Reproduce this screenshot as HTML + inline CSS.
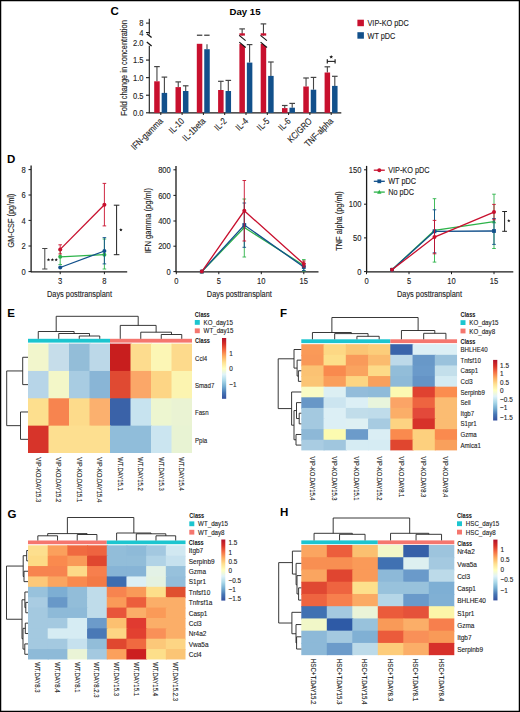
<!DOCTYPE html><html><head><meta charset="utf-8"><style>html,body{margin:0;padding:0;background:#fff;}svg{display:block;}</style></head><body>
<svg width="520" height="712" viewBox="0 0 520 712" font-family='"Liberation Sans", sans-serif'>
<rect x="0" y="0" width="520" height="712" fill="#fff"/>
<text x="110.50" y="11.30" dy="4.14" font-size="11.5" text-anchor="start" font-weight="bold" fill="#000">C</text>
<text x="245.00" y="11.60" dy="3.46" font-size="9.6" text-anchor="middle" font-weight="bold" fill="#000">Day 15</text>
<line x1="149.30" y1="18.80" x2="149.30" y2="34.60" stroke="#1a1a1a" stroke-width="1.1"/>
<line x1="149.30" y1="45.80" x2="149.30" y2="112.80" stroke="#1a1a1a" stroke-width="1.1"/>
<line x1="146.80" y1="33.80" x2="151.60" y2="37.60" stroke="#111" stroke-width="1.3"/>
<line x1="146.80" y1="41.90" x2="151.60" y2="45.90" stroke="#111" stroke-width="1.3"/>
<line x1="146.00" y1="112.80" x2="149.30" y2="112.80" stroke="#1a1a1a" stroke-width="1.1"/>
<text x="0.00" y="0.00" dy="2.74" font-size="7.6" text-anchor="end" font-weight="normal" fill="#222" stroke="#222" stroke-width="0.1" transform="translate(143.60,112.80) scale(1,1.2)">0.0</text>
<line x1="146.00" y1="95.22" x2="149.30" y2="95.22" stroke="#1a1a1a" stroke-width="1.1"/>
<text x="0.00" y="0.00" dy="2.74" font-size="7.6" text-anchor="end" font-weight="normal" fill="#222" stroke="#222" stroke-width="0.1" transform="translate(143.60,95.22) scale(1,1.2)">0.5</text>
<line x1="146.00" y1="77.65" x2="149.30" y2="77.65" stroke="#1a1a1a" stroke-width="1.1"/>
<text x="0.00" y="0.00" dy="2.74" font-size="7.6" text-anchor="end" font-weight="normal" fill="#222" stroke="#222" stroke-width="0.1" transform="translate(143.60,77.65) scale(1,1.2)">1.0</text>
<line x1="146.00" y1="60.08" x2="149.30" y2="60.08" stroke="#1a1a1a" stroke-width="1.1"/>
<text x="0.00" y="0.00" dy="2.74" font-size="7.6" text-anchor="end" font-weight="normal" fill="#222" stroke="#222" stroke-width="0.1" transform="translate(143.60,60.08) scale(1,1.2)">1.5</text>
<text x="0.00" y="0.00" dy="2.74" font-size="7.6" text-anchor="end" font-weight="normal" fill="#222" stroke="#222" stroke-width="0.1" transform="translate(143.60,42.50) scale(1,1.2)">2.0</text>
<line x1="146.00" y1="23.10" x2="149.30" y2="23.10" stroke="#1a1a1a" stroke-width="1.0"/>
<text x="0.00" y="0.00" dy="2.74" font-size="7.6" text-anchor="end" font-weight="normal" fill="#222" stroke="#222" stroke-width="0.1" transform="translate(143.60,23.10) scale(1,1.2)">8</text>
<line x1="146.00" y1="32.50" x2="149.30" y2="32.50" stroke="#1a1a1a" stroke-width="1.0"/>
<text x="0.00" y="0.00" dy="2.74" font-size="7.6" text-anchor="end" font-weight="normal" fill="#222" stroke="#222" stroke-width="0.1" transform="translate(143.60,32.50) scale(1,1.2)">4</text>
<text x="0.00" y="0.00" dy="2.68" font-size="7.45" text-anchor="middle" font-weight="normal" fill="#222" stroke="#222" stroke-width="0.1" transform="translate(123.60,68.00) rotate(-90) scale(1,1.2)">Fold change in concentration</text>
<line x1="148.80" y1="112.80" x2="341.30" y2="112.80" stroke="#1a1a1a" stroke-width="1.2"/>
<line x1="156.95" y1="66.60" x2="156.95" y2="81.30" stroke="#444" stroke-width="1.1"/>
<line x1="154.15" y1="66.60" x2="159.75" y2="66.60" stroke="#444" stroke-width="1.2"/>
<line x1="164.40" y1="77.10" x2="164.40" y2="92.90" stroke="#444" stroke-width="1.1"/>
<line x1="161.60" y1="77.10" x2="167.20" y2="77.10" stroke="#444" stroke-width="1.2"/>
<rect x="154.20" y="81.30" width="5.50" height="31.50" fill="#C8102E"/>
<rect x="161.65" y="92.90" width="5.50" height="19.90" fill="#12508B"/>
<line x1="160.80" y1="112.80" x2="160.80" y2="115.00" stroke="#1a1a1a" stroke-width="1.0"/>
<text x="0.00" y="0.00" font-size="7.7" text-anchor="end" font-weight="normal" fill="#222" stroke="#222" stroke-width="0.1" transform="translate(163.50,121.80) rotate(-45) scale(1,1.2)">IFN-gamma</text>
<line x1="178.25" y1="81.90" x2="178.25" y2="87.10" stroke="#444" stroke-width="1.1"/>
<line x1="175.45" y1="81.90" x2="181.05" y2="81.90" stroke="#444" stroke-width="1.2"/>
<line x1="185.70" y1="85.80" x2="185.70" y2="91.00" stroke="#444" stroke-width="1.1"/>
<line x1="182.90" y1="85.80" x2="188.50" y2="85.80" stroke="#444" stroke-width="1.2"/>
<rect x="175.50" y="87.10" width="5.50" height="25.70" fill="#C8102E"/>
<rect x="182.95" y="91.00" width="5.50" height="21.80" fill="#12508B"/>
<line x1="182.10" y1="112.80" x2="182.10" y2="115.00" stroke="#1a1a1a" stroke-width="1.0"/>
<text x="0.00" y="0.00" font-size="7.7" text-anchor="end" font-weight="normal" fill="#222" stroke="#222" stroke-width="0.1" transform="translate(184.80,121.80) rotate(-45) scale(1,1.2)">IL-10</text>
<line x1="207.00" y1="44.20" x2="207.00" y2="49.20" stroke="#444" stroke-width="1.1"/>
<rect x="196.80" y="43.80" width="5.50" height="69.00" fill="#C8102E"/>
<rect x="204.25" y="49.20" width="5.50" height="63.60" fill="#12508B"/>
<line x1="203.40" y1="112.80" x2="203.40" y2="115.00" stroke="#1a1a1a" stroke-width="1.0"/>
<text x="0.00" y="0.00" font-size="7.7" text-anchor="end" font-weight="normal" fill="#222" stroke="#222" stroke-width="0.1" transform="translate(206.10,121.80) rotate(-45) scale(1,1.2)">IL-1beta</text>
<line x1="220.85" y1="81.30" x2="220.85" y2="90.00" stroke="#444" stroke-width="1.1"/>
<line x1="218.05" y1="81.30" x2="223.65" y2="81.30" stroke="#444" stroke-width="1.2"/>
<line x1="228.30" y1="80.40" x2="228.30" y2="91.00" stroke="#444" stroke-width="1.1"/>
<line x1="225.50" y1="80.40" x2="231.10" y2="80.40" stroke="#444" stroke-width="1.2"/>
<rect x="218.10" y="90.00" width="5.50" height="22.80" fill="#C8102E"/>
<rect x="225.55" y="91.00" width="5.50" height="21.80" fill="#12508B"/>
<line x1="224.70" y1="112.80" x2="224.70" y2="115.00" stroke="#1a1a1a" stroke-width="1.0"/>
<text x="0.00" y="0.00" font-size="7.7" text-anchor="end" font-weight="normal" fill="#222" stroke="#222" stroke-width="0.1" transform="translate(227.40,121.80) rotate(-45) scale(1,1.2)">IL-2</text>
<line x1="242.15" y1="28.90" x2="242.15" y2="43.70" stroke="#444" stroke-width="1.1"/>
<line x1="239.35" y1="28.90" x2="244.95" y2="28.90" stroke="#444" stroke-width="1.2"/>
<line x1="249.60" y1="44.60" x2="249.60" y2="62.60" stroke="#444" stroke-width="1.1"/>
<line x1="246.80" y1="44.60" x2="252.40" y2="44.60" stroke="#444" stroke-width="1.2"/>
<rect x="239.40" y="43.70" width="5.50" height="69.10" fill="#C8102E"/>
<rect x="246.85" y="62.60" width="5.50" height="50.20" fill="#12508B"/>
<line x1="246.00" y1="112.80" x2="246.00" y2="115.00" stroke="#1a1a1a" stroke-width="1.0"/>
<text x="0.00" y="0.00" font-size="7.7" text-anchor="end" font-weight="normal" fill="#222" stroke="#222" stroke-width="0.1" transform="translate(248.70,121.80) rotate(-45) scale(1,1.2)">IL-4</text>
<line x1="263.45" y1="23.90" x2="263.45" y2="43.70" stroke="#444" stroke-width="1.1"/>
<line x1="260.65" y1="23.90" x2="266.25" y2="23.90" stroke="#444" stroke-width="1.2"/>
<line x1="270.90" y1="62.00" x2="270.90" y2="75.90" stroke="#444" stroke-width="1.1"/>
<line x1="268.10" y1="62.00" x2="273.70" y2="62.00" stroke="#444" stroke-width="1.2"/>
<rect x="260.70" y="43.70" width="5.50" height="69.10" fill="#C8102E"/>
<rect x="268.15" y="75.90" width="5.50" height="36.90" fill="#12508B"/>
<line x1="267.30" y1="112.80" x2="267.30" y2="115.00" stroke="#1a1a1a" stroke-width="1.0"/>
<text x="0.00" y="0.00" font-size="7.7" text-anchor="end" font-weight="normal" fill="#222" stroke="#222" stroke-width="0.1" transform="translate(270.00,121.80) rotate(-45) scale(1,1.2)">IL-5</text>
<line x1="284.75" y1="105.50" x2="284.75" y2="108.10" stroke="#444" stroke-width="1.1"/>
<line x1="281.95" y1="105.50" x2="287.55" y2="105.50" stroke="#444" stroke-width="1.2"/>
<line x1="292.20" y1="103.40" x2="292.20" y2="107.70" stroke="#444" stroke-width="1.1"/>
<line x1="289.40" y1="103.40" x2="295.00" y2="103.40" stroke="#444" stroke-width="1.2"/>
<rect x="282.00" y="108.10" width="5.50" height="4.70" fill="#C8102E"/>
<rect x="289.45" y="107.70" width="5.50" height="5.10" fill="#12508B"/>
<line x1="288.60" y1="112.80" x2="288.60" y2="115.00" stroke="#1a1a1a" stroke-width="1.0"/>
<text x="0.00" y="0.00" font-size="7.7" text-anchor="end" font-weight="normal" fill="#222" stroke="#222" stroke-width="0.1" transform="translate(291.30,121.80) rotate(-45) scale(1,1.2)">IL-6</text>
<line x1="306.05" y1="78.00" x2="306.05" y2="86.50" stroke="#444" stroke-width="1.1"/>
<line x1="303.25" y1="78.00" x2="308.85" y2="78.00" stroke="#444" stroke-width="1.2"/>
<line x1="313.50" y1="77.40" x2="313.50" y2="89.70" stroke="#444" stroke-width="1.1"/>
<line x1="310.70" y1="77.40" x2="316.30" y2="77.40" stroke="#444" stroke-width="1.2"/>
<rect x="303.30" y="86.50" width="5.50" height="26.30" fill="#C8102E"/>
<rect x="310.75" y="89.70" width="5.50" height="23.10" fill="#12508B"/>
<line x1="309.90" y1="112.80" x2="309.90" y2="115.00" stroke="#1a1a1a" stroke-width="1.0"/>
<text x="0.00" y="0.00" font-size="7.7" text-anchor="end" font-weight="normal" fill="#222" stroke="#222" stroke-width="0.1" transform="translate(312.60,121.80) rotate(-45) scale(1,1.2)">KC/GRO</text>
<line x1="327.35" y1="66.80" x2="327.35" y2="72.50" stroke="#444" stroke-width="1.1"/>
<line x1="324.55" y1="66.80" x2="330.15" y2="66.80" stroke="#444" stroke-width="1.2"/>
<line x1="334.80" y1="76.30" x2="334.80" y2="85.90" stroke="#444" stroke-width="1.1"/>
<line x1="332.00" y1="76.30" x2="337.60" y2="76.30" stroke="#444" stroke-width="1.2"/>
<rect x="324.60" y="72.50" width="5.50" height="40.30" fill="#C8102E"/>
<rect x="332.05" y="85.90" width="5.50" height="26.90" fill="#12508B"/>
<line x1="331.20" y1="112.80" x2="331.20" y2="115.00" stroke="#1a1a1a" stroke-width="1.0"/>
<text x="0.00" y="0.00" font-size="7.7" text-anchor="end" font-weight="normal" fill="#222" stroke="#222" stroke-width="0.1" transform="translate(333.90,121.80) rotate(-45) scale(1,1.2)">TNF-alpha</text>
<line x1="196.90" y1="35.20" x2="202.30" y2="35.20" stroke="#222" stroke-width="1.1"/>
<line x1="204.20" y1="35.20" x2="209.60" y2="35.20" stroke="#222" stroke-width="1.1"/>
<rect x="239.10" y="35.60" width="6.30" height="8.10" fill="#fff"/>
<rect x="239.40" y="33.30" width="5.50" height="2.30" fill="#C8102E"/>
<polygon points="239.10,42.0 245.50,42.0 245.50,47.6" fill="#fff"/>
<line x1="239.20" y1="35.30" x2="245.60" y2="40.70" stroke="#111" stroke-width="1.1"/>
<line x1="239.30" y1="42.20" x2="245.70" y2="47.50" stroke="#111" stroke-width="1.1"/>
<rect x="260.40" y="35.60" width="6.30" height="8.10" fill="#fff"/>
<rect x="260.70" y="33.30" width="5.50" height="2.30" fill="#C8102E"/>
<polygon points="260.40,42.0 266.80,42.0 266.80,47.6" fill="#fff"/>
<line x1="260.50" y1="35.30" x2="266.90" y2="40.70" stroke="#111" stroke-width="1.1"/>
<line x1="260.60" y1="42.20" x2="267.00" y2="47.50" stroke="#111" stroke-width="1.1"/>
<line x1="327.30" y1="61.40" x2="335.10" y2="61.40" stroke="#222" stroke-width="1.1"/>
<line x1="327.30" y1="59.20" x2="327.30" y2="63.60" stroke="#222" stroke-width="1.2"/>
<line x1="335.10" y1="59.20" x2="335.10" y2="63.60" stroke="#222" stroke-width="1.2"/>
<polygon points="331.20,54.90 331.73,56.17 333.10,56.28 332.06,57.18 332.38,58.52 331.20,57.80 330.02,58.52 330.34,57.18 329.30,56.28 330.67,56.17" fill="#111"/>
<rect x="357.40" y="19.70" width="6.50" height="6.50" fill="#C8102E"/>
<rect x="357.40" y="32.20" width="6.50" height="6.50" fill="#12508B"/>
<text x="0.00" y="0.00" dy="2.63" font-size="7.3" text-anchor="start" font-weight="normal" fill="#222" stroke="#222" stroke-width="0.1" transform="translate(367.50,23.00) scale(1,1.2)">VIP-KO pDC</text>
<text x="0.00" y="0.00" dy="2.63" font-size="7.3" text-anchor="start" font-weight="normal" fill="#222" stroke="#222" stroke-width="0.1" transform="translate(367.50,35.50) scale(1,1.2)">WT pDC</text>
<text x="7.00" y="158.80" dy="4.14" font-size="11.5" text-anchor="start" font-weight="bold" fill="#000">D</text>
<line x1="31.10" y1="165.40" x2="31.10" y2="272.30" stroke="#1a1a1a" stroke-width="1.3"/>
<line x1="28.50" y1="271.60" x2="31.10" y2="271.60" stroke="#1a1a1a" stroke-width="1.0"/>
<text x="0.00" y="0.00" dy="2.74" font-size="7.6" text-anchor="end" font-weight="normal" fill="#222" stroke="#222" stroke-width="0.1" transform="translate(25.80,271.60) scale(1,1.2)">0</text>
<line x1="28.50" y1="246.00" x2="31.10" y2="246.00" stroke="#1a1a1a" stroke-width="1.0"/>
<text x="0.00" y="0.00" dy="2.74" font-size="7.6" text-anchor="end" font-weight="normal" fill="#222" stroke="#222" stroke-width="0.1" transform="translate(25.80,246.00) scale(1,1.2)">2</text>
<line x1="28.50" y1="220.40" x2="31.10" y2="220.40" stroke="#1a1a1a" stroke-width="1.0"/>
<text x="0.00" y="0.00" dy="2.74" font-size="7.6" text-anchor="end" font-weight="normal" fill="#222" stroke="#222" stroke-width="0.1" transform="translate(25.80,220.40) scale(1,1.2)">4</text>
<line x1="28.50" y1="195.00" x2="31.10" y2="195.00" stroke="#1a1a1a" stroke-width="1.0"/>
<text x="0.00" y="0.00" dy="2.74" font-size="7.6" text-anchor="end" font-weight="normal" fill="#222" stroke="#222" stroke-width="0.1" transform="translate(25.80,195.00) scale(1,1.2)">6</text>
<line x1="28.50" y1="169.60" x2="31.10" y2="169.60" stroke="#1a1a1a" stroke-width="1.0"/>
<text x="0.00" y="0.00" dy="2.74" font-size="7.6" text-anchor="end" font-weight="normal" fill="#222" stroke="#222" stroke-width="0.1" transform="translate(25.80,169.60) scale(1,1.2)">8</text>
<line x1="31.10" y1="271.80" x2="127.20" y2="271.80" stroke="#1a1a1a" stroke-width="1.3"/>
<line x1="60.20" y1="271.80" x2="60.20" y2="274.20" stroke="#1a1a1a" stroke-width="1.0"/>
<text x="0.00" y="0.00" dy="2.74" font-size="7.6" text-anchor="middle" font-weight="normal" fill="#222" stroke="#222" stroke-width="0.1" transform="translate(60.20,280.80) scale(1,1.2)">3</text>
<line x1="104.40" y1="271.80" x2="104.40" y2="274.20" stroke="#1a1a1a" stroke-width="1.0"/>
<text x="0.00" y="0.00" dy="2.74" font-size="7.6" text-anchor="middle" font-weight="normal" fill="#222" stroke="#222" stroke-width="0.1" transform="translate(104.40,280.80) scale(1,1.2)">8</text>
<text x="0.00" y="0.00" dy="2.65" font-size="7.35" text-anchor="middle" font-weight="normal" fill="#222" stroke="#222" stroke-width="0.1" transform="translate(79.50,293.30) scale(1,1.3)">Days posttransplant</text>
<text x="0.00" y="0.00" dy="2.65" font-size="7.35" text-anchor="middle" font-weight="normal" fill="#222" stroke="#222" stroke-width="0.1" transform="translate(10.60,220.60) rotate(-90) scale(1,1.2)">GM-CSF (pg/ml)</text>
<line x1="60.20" y1="250.00" x2="60.20" y2="264.60" stroke="#2DB34A" stroke-width="0.9"/>
<line x1="58.40" y1="250.00" x2="62.00" y2="250.00" stroke="#2DB34A" stroke-width="0.9"/>
<line x1="58.40" y1="264.60" x2="62.00" y2="264.60" stroke="#2DB34A" stroke-width="0.9"/>
<line x1="104.40" y1="239.00" x2="104.40" y2="269.00" stroke="#2DB34A" stroke-width="0.9"/>
<line x1="102.60" y1="239.00" x2="106.20" y2="239.00" stroke="#2DB34A" stroke-width="0.9"/>
<line x1="102.60" y1="269.00" x2="106.20" y2="269.00" stroke="#2DB34A" stroke-width="0.9"/>
<path d="M60.20,256.80 L104.40,254.70" stroke="#2DB34A" stroke-width="1.3" fill="none"/>
<circle cx="60.20" cy="256.80" r="2.0" fill="#2DB34A"/>
<circle cx="104.40" cy="254.70" r="2.0" fill="#2DB34A"/>
<line x1="104.40" y1="237.60" x2="104.40" y2="263.90" stroke="#12508B" stroke-width="0.9"/>
<line x1="102.60" y1="237.60" x2="106.20" y2="237.60" stroke="#12508B" stroke-width="0.9"/>
<line x1="102.60" y1="263.90" x2="106.20" y2="263.90" stroke="#12508B" stroke-width="0.9"/>
<path d="M60.20,267.50 L104.40,251.00" stroke="#12508B" stroke-width="1.3" fill="none"/>
<circle cx="60.20" cy="267.50" r="2.0" fill="#12508B"/>
<circle cx="104.40" cy="251.00" r="2.0" fill="#12508B"/>
<line x1="60.20" y1="244.80" x2="60.20" y2="253.90" stroke="#C8102E" stroke-width="0.9"/>
<line x1="58.40" y1="244.80" x2="62.00" y2="244.80" stroke="#C8102E" stroke-width="0.9"/>
<line x1="58.40" y1="253.90" x2="62.00" y2="253.90" stroke="#C8102E" stroke-width="0.9"/>
<line x1="104.40" y1="183.40" x2="104.40" y2="225.90" stroke="#C8102E" stroke-width="0.9"/>
<line x1="102.60" y1="183.40" x2="106.20" y2="183.40" stroke="#C8102E" stroke-width="0.9"/>
<line x1="102.60" y1="225.90" x2="106.20" y2="225.90" stroke="#C8102E" stroke-width="0.9"/>
<path d="M60.20,249.40 L104.40,204.80" stroke="#C8102E" stroke-width="1.3" fill="none"/>
<circle cx="60.20" cy="249.40" r="2.0" fill="#C8102E"/>
<circle cx="104.40" cy="204.80" r="2.0" fill="#C8102E"/>
<line x1="44.80" y1="248.50" x2="44.80" y2="269.00" stroke="#444" stroke-width="1.0"/>
<line x1="42.20" y1="248.50" x2="47.40" y2="248.50" stroke="#444" stroke-width="1.0"/>
<line x1="42.20" y1="269.00" x2="47.40" y2="269.00" stroke="#444" stroke-width="1.0"/>
<polygon points="48.50,258.00 48.98,259.14 50.21,259.24 49.27,260.05 49.56,261.26 48.50,260.61 47.44,261.26 47.73,260.05 46.79,259.24 48.02,259.14" fill="#111"/>
<polygon points="52.40,258.00 52.88,259.14 54.11,259.24 53.17,260.05 53.46,261.26 52.40,260.61 51.34,261.26 51.63,260.05 50.69,259.24 51.92,259.14" fill="#111"/>
<polygon points="56.20,258.00 56.68,259.14 57.91,259.24 56.97,260.05 57.26,261.26 56.20,260.61 55.14,261.26 55.43,260.05 54.49,259.24 55.72,259.14" fill="#111"/>
<line x1="116.60" y1="205.20" x2="116.60" y2="254.70" stroke="#222" stroke-width="1.0"/>
<line x1="113.80" y1="205.20" x2="119.40" y2="205.20" stroke="#222" stroke-width="1.0"/>
<line x1="113.80" y1="254.70" x2="119.40" y2="254.70" stroke="#222" stroke-width="1.0"/>
<polygon points="120.90,228.10 121.38,229.24 122.61,229.34 121.67,230.15 121.96,231.36 120.90,230.71 119.84,231.36 120.13,230.15 119.19,229.34 120.42,229.24" fill="#111"/>
<line x1="176.00" y1="165.90" x2="176.00" y2="272.30" stroke="#1a1a1a" stroke-width="1.3"/>
<line x1="173.40" y1="271.60" x2="176.00" y2="271.60" stroke="#1a1a1a" stroke-width="1.0"/>
<text x="0.00" y="0.00" dy="2.74" font-size="7.6" text-anchor="end" font-weight="normal" fill="#222" stroke="#222" stroke-width="0.1" transform="translate(170.80,271.60) scale(1,1.2)">0</text>
<line x1="173.40" y1="246.20" x2="176.00" y2="246.20" stroke="#1a1a1a" stroke-width="1.0"/>
<text x="0.00" y="0.00" dy="2.74" font-size="7.6" text-anchor="end" font-weight="normal" fill="#222" stroke="#222" stroke-width="0.1" transform="translate(170.80,246.20) scale(1,1.2)">200</text>
<line x1="173.40" y1="221.00" x2="176.00" y2="221.00" stroke="#1a1a1a" stroke-width="1.0"/>
<text x="0.00" y="0.00" dy="2.74" font-size="7.6" text-anchor="end" font-weight="normal" fill="#222" stroke="#222" stroke-width="0.1" transform="translate(170.80,221.00) scale(1,1.2)">400</text>
<line x1="173.40" y1="195.40" x2="176.00" y2="195.40" stroke="#1a1a1a" stroke-width="1.0"/>
<text x="0.00" y="0.00" dy="2.74" font-size="7.6" text-anchor="end" font-weight="normal" fill="#222" stroke="#222" stroke-width="0.1" transform="translate(170.80,195.40) scale(1,1.2)">600</text>
<line x1="173.40" y1="169.80" x2="176.00" y2="169.80" stroke="#1a1a1a" stroke-width="1.0"/>
<text x="0.00" y="0.00" dy="2.74" font-size="7.6" text-anchor="end" font-weight="normal" fill="#222" stroke="#222" stroke-width="0.1" transform="translate(170.80,169.80) scale(1,1.2)">800</text>
<line x1="176.00" y1="271.80" x2="318.50" y2="271.80" stroke="#1a1a1a" stroke-width="1.3"/>
<line x1="176.30" y1="271.80" x2="176.30" y2="274.20" stroke="#1a1a1a" stroke-width="1.0"/>
<text x="0.00" y="0.00" dy="2.74" font-size="7.6" text-anchor="middle" font-weight="normal" fill="#222" stroke="#222" stroke-width="0.1" transform="translate(176.30,280.80) scale(1,1.2)">0</text>
<line x1="218.80" y1="271.80" x2="218.80" y2="274.20" stroke="#1a1a1a" stroke-width="1.0"/>
<text x="0.00" y="0.00" dy="2.74" font-size="7.6" text-anchor="middle" font-weight="normal" fill="#222" stroke="#222" stroke-width="0.1" transform="translate(218.80,280.80) scale(1,1.2)">5</text>
<line x1="261.30" y1="271.80" x2="261.30" y2="274.20" stroke="#1a1a1a" stroke-width="1.0"/>
<text x="0.00" y="0.00" dy="2.74" font-size="7.6" text-anchor="middle" font-weight="normal" fill="#222" stroke="#222" stroke-width="0.1" transform="translate(261.30,280.80) scale(1,1.2)">10</text>
<line x1="303.80" y1="271.80" x2="303.80" y2="274.20" stroke="#1a1a1a" stroke-width="1.0"/>
<text x="0.00" y="0.00" dy="2.74" font-size="7.6" text-anchor="middle" font-weight="normal" fill="#222" stroke="#222" stroke-width="0.1" transform="translate(303.80,280.80) scale(1,1.2)">15</text>
<text x="0.00" y="0.00" dy="2.65" font-size="7.35" text-anchor="middle" font-weight="normal" fill="#222" stroke="#222" stroke-width="0.1" transform="translate(239.30,293.30) scale(1,1.3)">Days posttransplant</text>
<text x="0.00" y="0.00" dy="2.74" font-size="7.6" text-anchor="middle" font-weight="normal" fill="#222" stroke="#222" stroke-width="0.1" transform="translate(147.60,220.60) rotate(-90) scale(1,1.2)">IFN gamma (pg/ml)</text>
<line x1="244.30" y1="199.00" x2="244.30" y2="257.00" stroke="#2DB34A" stroke-width="0.9"/>
<line x1="242.50" y1="199.00" x2="246.10" y2="199.00" stroke="#2DB34A" stroke-width="0.9"/>
<line x1="242.50" y1="257.00" x2="246.10" y2="257.00" stroke="#2DB34A" stroke-width="0.9"/>
<line x1="303.80" y1="259.60" x2="303.80" y2="271.00" stroke="#2DB34A" stroke-width="0.9"/>
<line x1="302.00" y1="259.60" x2="305.60" y2="259.60" stroke="#2DB34A" stroke-width="0.9"/>
<line x1="302.00" y1="271.00" x2="305.60" y2="271.00" stroke="#2DB34A" stroke-width="0.9"/>
<path d="M201.80,271.60 L244.30,227.50 L303.80,265.50" stroke="#2DB34A" stroke-width="1.3" fill="none"/>
<polygon points="201.80,269.30 204.00,273.20 199.60,273.20" fill="#2DB34A"/>
<polygon points="244.30,225.20 246.50,229.10 242.10,229.10" fill="#2DB34A"/>
<polygon points="303.80,263.20 306.00,267.10 301.60,267.10" fill="#2DB34A"/>
<line x1="244.30" y1="203.00" x2="244.30" y2="247.30" stroke="#12508B" stroke-width="0.9"/>
<line x1="242.50" y1="203.00" x2="246.10" y2="203.00" stroke="#12508B" stroke-width="0.9"/>
<line x1="242.50" y1="247.30" x2="246.10" y2="247.30" stroke="#12508B" stroke-width="0.9"/>
<line x1="303.80" y1="263.50" x2="303.80" y2="270.50" stroke="#12508B" stroke-width="0.9"/>
<line x1="302.00" y1="263.50" x2="305.60" y2="263.50" stroke="#12508B" stroke-width="0.9"/>
<line x1="302.00" y1="270.50" x2="305.60" y2="270.50" stroke="#12508B" stroke-width="0.9"/>
<path d="M201.80,271.60 L244.30,225.00 L303.80,267.00" stroke="#12508B" stroke-width="1.3" fill="none"/>
<rect x="199.90" y="269.70" width="3.80" height="3.80" fill="#12508B"/>
<rect x="242.40" y="223.10" width="3.80" height="3.80" fill="#12508B"/>
<rect x="301.90" y="265.10" width="3.80" height="3.80" fill="#12508B"/>
<line x1="244.30" y1="180.50" x2="244.30" y2="241.00" stroke="#C8102E" stroke-width="0.9"/>
<line x1="242.50" y1="180.50" x2="246.10" y2="180.50" stroke="#C8102E" stroke-width="0.9"/>
<line x1="242.50" y1="241.00" x2="246.10" y2="241.00" stroke="#C8102E" stroke-width="0.9"/>
<line x1="303.80" y1="261.00" x2="303.80" y2="267.00" stroke="#C8102E" stroke-width="0.9"/>
<line x1="302.00" y1="261.00" x2="305.60" y2="261.00" stroke="#C8102E" stroke-width="0.9"/>
<line x1="302.00" y1="267.00" x2="305.60" y2="267.00" stroke="#C8102E" stroke-width="0.9"/>
<path d="M201.80,271.60 L244.30,210.80 L303.80,264.00" stroke="#C8102E" stroke-width="1.3" fill="none"/>
<circle cx="201.80" cy="271.60" r="2.0" fill="#C8102E"/>
<circle cx="244.30" cy="210.80" r="2.0" fill="#C8102E"/>
<circle cx="303.80" cy="264.00" r="2.0" fill="#C8102E"/>
<line x1="366.60" y1="165.90" x2="366.60" y2="272.30" stroke="#1a1a1a" stroke-width="1.3"/>
<line x1="364.00" y1="271.60" x2="366.60" y2="271.60" stroke="#1a1a1a" stroke-width="1.0"/>
<text x="0.00" y="0.00" dy="2.74" font-size="7.6" text-anchor="end" font-weight="normal" fill="#222" stroke="#222" stroke-width="0.1" transform="translate(361.40,271.60) scale(1,1.2)">0</text>
<line x1="364.00" y1="237.90" x2="366.60" y2="237.90" stroke="#1a1a1a" stroke-width="1.0"/>
<text x="0.00" y="0.00" dy="2.74" font-size="7.6" text-anchor="end" font-weight="normal" fill="#222" stroke="#222" stroke-width="0.1" transform="translate(361.40,237.90) scale(1,1.2)">50</text>
<line x1="364.00" y1="204.20" x2="366.60" y2="204.20" stroke="#1a1a1a" stroke-width="1.0"/>
<text x="0.00" y="0.00" dy="2.74" font-size="7.6" text-anchor="end" font-weight="normal" fill="#222" stroke="#222" stroke-width="0.1" transform="translate(361.40,204.20) scale(1,1.2)">100</text>
<line x1="364.00" y1="169.80" x2="366.60" y2="169.80" stroke="#1a1a1a" stroke-width="1.0"/>
<text x="0.00" y="0.00" dy="2.74" font-size="7.6" text-anchor="end" font-weight="normal" fill="#222" stroke="#222" stroke-width="0.1" transform="translate(361.40,169.80) scale(1,1.2)">150</text>
<line x1="366.60" y1="271.80" x2="513.30" y2="271.80" stroke="#1a1a1a" stroke-width="1.3"/>
<line x1="366.50" y1="271.80" x2="366.50" y2="274.20" stroke="#1a1a1a" stroke-width="1.0"/>
<text x="0.00" y="0.00" dy="2.74" font-size="7.6" text-anchor="middle" font-weight="normal" fill="#222" stroke="#222" stroke-width="0.1" transform="translate(366.50,280.80) scale(1,1.2)">0</text>
<line x1="409.00" y1="271.80" x2="409.00" y2="274.20" stroke="#1a1a1a" stroke-width="1.0"/>
<text x="0.00" y="0.00" dy="2.74" font-size="7.6" text-anchor="middle" font-weight="normal" fill="#222" stroke="#222" stroke-width="0.1" transform="translate(409.00,280.80) scale(1,1.2)">5</text>
<line x1="451.50" y1="271.80" x2="451.50" y2="274.20" stroke="#1a1a1a" stroke-width="1.0"/>
<text x="0.00" y="0.00" dy="2.74" font-size="7.6" text-anchor="middle" font-weight="normal" fill="#222" stroke="#222" stroke-width="0.1" transform="translate(451.50,280.80) scale(1,1.2)">10</text>
<line x1="494.00" y1="271.80" x2="494.00" y2="274.20" stroke="#1a1a1a" stroke-width="1.0"/>
<text x="0.00" y="0.00" dy="2.74" font-size="7.6" text-anchor="middle" font-weight="normal" fill="#222" stroke="#222" stroke-width="0.1" transform="translate(494.00,280.80) scale(1,1.2)">15</text>
<text x="0.00" y="0.00" dy="2.65" font-size="7.35" text-anchor="middle" font-weight="normal" fill="#222" stroke="#222" stroke-width="0.1" transform="translate(429.50,293.30) scale(1,1.3)">Days posttransplant</text>
<text x="0.00" y="0.00" dy="2.66" font-size="7.4" text-anchor="middle" font-weight="normal" fill="#222" stroke="#222" stroke-width="0.1" transform="translate(339.00,221.00) rotate(-90) scale(1,1.2)">TNF alpha (pg/ml)</text>
<line x1="434.50" y1="198.70" x2="434.50" y2="262.10" stroke="#2DB34A" stroke-width="0.9"/>
<line x1="432.70" y1="198.70" x2="436.30" y2="198.70" stroke="#2DB34A" stroke-width="0.9"/>
<line x1="432.70" y1="262.10" x2="436.30" y2="262.10" stroke="#2DB34A" stroke-width="0.9"/>
<line x1="494.00" y1="194.20" x2="494.00" y2="248.50" stroke="#2DB34A" stroke-width="0.9"/>
<line x1="492.20" y1="194.20" x2="495.80" y2="194.20" stroke="#2DB34A" stroke-width="0.9"/>
<line x1="492.20" y1="248.50" x2="495.80" y2="248.50" stroke="#2DB34A" stroke-width="0.9"/>
<path d="M392.00,269.80 L434.50,230.40 L494.00,221.70" stroke="#2DB34A" stroke-width="1.3" fill="none"/>
<polygon points="392.00,267.50 394.20,271.40 389.80,271.40" fill="#2DB34A"/>
<polygon points="434.50,228.10 436.70,232.00 432.30,232.00" fill="#2DB34A"/>
<polygon points="494.00,219.40 496.20,223.30 491.80,223.30" fill="#2DB34A"/>
<line x1="434.50" y1="209.80" x2="434.50" y2="252.80" stroke="#12508B" stroke-width="0.9"/>
<line x1="432.70" y1="209.80" x2="436.30" y2="209.80" stroke="#12508B" stroke-width="0.9"/>
<line x1="432.70" y1="252.80" x2="436.30" y2="252.80" stroke="#12508B" stroke-width="0.9"/>
<line x1="494.00" y1="218.50" x2="494.00" y2="244.40" stroke="#12508B" stroke-width="0.9"/>
<line x1="492.20" y1="218.50" x2="495.80" y2="218.50" stroke="#12508B" stroke-width="0.9"/>
<line x1="492.20" y1="244.40" x2="495.80" y2="244.40" stroke="#12508B" stroke-width="0.9"/>
<path d="M392.00,269.80 L434.50,231.30 L494.00,231.00" stroke="#12508B" stroke-width="1.3" fill="none"/>
<rect x="390.10" y="267.90" width="3.80" height="3.80" fill="#12508B"/>
<rect x="432.60" y="229.40" width="3.80" height="3.80" fill="#12508B"/>
<rect x="492.10" y="229.10" width="3.80" height="3.80" fill="#12508B"/>
<line x1="434.50" y1="220.40" x2="434.50" y2="253.80" stroke="#C8102E" stroke-width="0.9"/>
<line x1="432.70" y1="220.40" x2="436.30" y2="220.40" stroke="#C8102E" stroke-width="0.9"/>
<line x1="432.70" y1="253.80" x2="436.30" y2="253.80" stroke="#C8102E" stroke-width="0.9"/>
<line x1="494.00" y1="204.40" x2="494.00" y2="219.80" stroke="#C8102E" stroke-width="0.9"/>
<line x1="492.20" y1="204.40" x2="495.80" y2="204.40" stroke="#C8102E" stroke-width="0.9"/>
<line x1="492.20" y1="219.80" x2="495.80" y2="219.80" stroke="#C8102E" stroke-width="0.9"/>
<path d="M392.00,269.80 L434.50,237.10 L494.00,212.10" stroke="#C8102E" stroke-width="1.3" fill="none"/>
<circle cx="392.00" cy="269.80" r="2.0" fill="#C8102E"/>
<circle cx="434.50" cy="237.10" r="2.0" fill="#C8102E"/>
<circle cx="494.00" cy="212.10" r="2.0" fill="#C8102E"/>
<line x1="504.60" y1="211.50" x2="504.60" y2="231.30" stroke="#222" stroke-width="1.0"/>
<line x1="502.20" y1="211.50" x2="507.00" y2="211.50" stroke="#222" stroke-width="1.0"/>
<line x1="502.20" y1="231.30" x2="507.00" y2="231.30" stroke="#222" stroke-width="1.0"/>
<polygon points="508.80,219.00 509.28,220.14 510.51,220.24 509.57,221.05 509.86,222.26 508.80,221.61 507.74,222.26 508.03,221.05 507.09,220.24 508.32,220.14" fill="#111"/>
<line x1="373.80" y1="170.20" x2="384.80" y2="170.20" stroke="#C8102E" stroke-width="1.3"/>
<circle cx="379.30" cy="170.20" r="2.0" fill="#C8102E"/>
<text x="0.00" y="0.00" dy="2.63" font-size="7.3" text-anchor="start" font-weight="normal" fill="#222" stroke="#222" stroke-width="0.1" transform="translate(388.20,170.20) scale(1,1.2)">VIP-KO pDC</text>
<line x1="373.80" y1="181.30" x2="384.80" y2="181.30" stroke="#12508B" stroke-width="1.3"/>
<rect x="377.40" y="179.40" width="3.80" height="3.80" fill="#12508B"/>
<text x="0.00" y="0.00" dy="2.63" font-size="7.3" text-anchor="start" font-weight="normal" fill="#222" stroke="#222" stroke-width="0.1" transform="translate(388.20,181.30) scale(1,1.2)">WT pDC</text>
<line x1="373.80" y1="192.10" x2="384.80" y2="192.10" stroke="#2DB34A" stroke-width="1.3"/>
<polygon points="379.30,189.80 381.50,193.70 377.10,193.70" fill="#2DB34A"/>
<text x="0.00" y="0.00" dy="2.63" font-size="7.3" text-anchor="start" font-weight="normal" fill="#222" stroke="#222" stroke-width="0.1" transform="translate(388.20,192.10) scale(1,1.2)">No pDC</text>
<text x="7.20" y="312.40" dy="4.14" font-size="11.5" text-anchor="start" font-weight="bold" fill="#000">E</text>
<rect x="28.00" y="338.80" width="82.00" height="3.80" fill="#1CC5CF"/>
<rect x="110.00" y="338.80" width="82.00" height="3.80" fill="#F5766E"/>
<rect x="28.00" y="343.60" width="21.50" height="28.35" fill="#F2F6CC"/>
<rect x="48.50" y="343.60" width="21.50" height="28.35" fill="#C6DDEA"/>
<rect x="69.00" y="343.60" width="21.50" height="28.35" fill="#93BDD8"/>
<rect x="89.50" y="343.60" width="21.50" height="28.35" fill="#BCD8E8"/>
<rect x="110.00" y="343.60" width="21.50" height="28.35" fill="#C81E1E"/>
<rect x="130.50" y="343.60" width="21.50" height="28.35" fill="#FDDC8E"/>
<rect x="151.00" y="343.60" width="21.50" height="28.35" fill="#FCF6B5"/>
<rect x="171.50" y="343.60" width="20.50" height="28.35" fill="#FDDA8C"/>
<rect x="28.00" y="370.95" width="21.50" height="28.35" fill="#B7D5E8"/>
<rect x="48.50" y="370.95" width="21.50" height="28.35" fill="#F3F7C8"/>
<rect x="69.00" y="370.95" width="21.50" height="28.35" fill="#A8CCE2"/>
<rect x="89.50" y="370.95" width="21.50" height="28.35" fill="#89B5D6"/>
<rect x="110.00" y="370.95" width="21.50" height="28.35" fill="#E04A32"/>
<rect x="130.50" y="370.95" width="21.50" height="28.35" fill="#FBA768"/>
<rect x="151.00" y="370.95" width="21.50" height="28.35" fill="#FDD585"/>
<rect x="171.50" y="370.95" width="20.50" height="28.35" fill="#FCF4B0"/>
<rect x="28.00" y="398.30" width="21.50" height="28.35" fill="#FDDF8E"/>
<rect x="48.50" y="398.30" width="21.50" height="28.35" fill="#F7844F"/>
<rect x="69.00" y="398.30" width="21.50" height="28.35" fill="#FDDB8B"/>
<rect x="89.50" y="398.30" width="21.50" height="28.35" fill="#FBB06E"/>
<rect x="110.00" y="398.30" width="21.50" height="28.35" fill="#3A62A8"/>
<rect x="130.50" y="398.30" width="21.50" height="28.35" fill="#C7E3EF"/>
<rect x="151.00" y="398.30" width="21.50" height="28.35" fill="#EDF6D0"/>
<rect x="171.50" y="398.30" width="20.50" height="28.35" fill="#EAF3D3"/>
<rect x="28.00" y="425.65" width="21.50" height="27.35" fill="#D7342A"/>
<rect x="48.50" y="425.65" width="21.50" height="27.35" fill="#FDDF90"/>
<rect x="69.00" y="425.65" width="21.50" height="27.35" fill="#FDDF90"/>
<rect x="89.50" y="425.65" width="21.50" height="27.35" fill="#FDDF90"/>
<rect x="110.00" y="425.65" width="21.50" height="27.35" fill="#90BDDA"/>
<rect x="130.50" y="425.65" width="21.50" height="27.35" fill="#90BDDA"/>
<rect x="151.00" y="425.65" width="21.50" height="27.35" fill="#CBE5F0"/>
<rect x="171.50" y="425.65" width="20.50" height="27.35" fill="#E8F3D3"/>
<text x="0.00" y="0.00" dy="2.02" font-size="5.6" text-anchor="start" font-weight="bold" fill="#111" transform="translate(195.00,340.90) scale(1,1.15)">Class</text>
<text x="0.00" y="0.00" dy="2.20" font-size="6.1" text-anchor="start" font-weight="normal" fill="#222" stroke="#222" stroke-width="0.1" transform="translate(195.00,357.88) scale(1,1.2)">Ccl4</text>
<text x="0.00" y="0.00" dy="2.20" font-size="6.1" text-anchor="start" font-weight="normal" fill="#222" stroke="#222" stroke-width="0.1" transform="translate(195.00,385.23) scale(1,1.2)">Smad7</text>
<text x="0.00" y="0.00" dy="2.20" font-size="6.1" text-anchor="start" font-weight="normal" fill="#222" stroke="#222" stroke-width="0.1" transform="translate(195.00,412.58) scale(1,1.2)">Fasn</text>
<text x="0.00" y="0.00" dy="2.20" font-size="6.1" text-anchor="start" font-weight="normal" fill="#222" stroke="#222" stroke-width="0.1" transform="translate(195.00,439.93) scale(1,1.2)">Ppia</text>
<text x="0.00" y="0.00" dy="2.14" font-size="5.95" text-anchor="start" font-weight="normal" fill="#222" stroke="#222" stroke-width="0.1" transform="translate(38.25,457.20) rotate(90) scale(1,1.2)">VIP-KO.DAY15.3</text>
<text x="0.00" y="0.00" dy="2.14" font-size="5.95" text-anchor="start" font-weight="normal" fill="#222" stroke="#222" stroke-width="0.1" transform="translate(58.75,457.20) rotate(90) scale(1,1.2)">VIP-KO.DAY15.2</text>
<text x="0.00" y="0.00" dy="2.14" font-size="5.95" text-anchor="start" font-weight="normal" fill="#222" stroke="#222" stroke-width="0.1" transform="translate(79.25,457.20) rotate(90) scale(1,1.2)">VIP-KO.DAY15.1</text>
<text x="0.00" y="0.00" dy="2.14" font-size="5.95" text-anchor="start" font-weight="normal" fill="#222" stroke="#222" stroke-width="0.1" transform="translate(99.75,457.20) rotate(90) scale(1,1.2)">VIP-KO.DAY15.4</text>
<text x="0.00" y="0.00" dy="2.14" font-size="5.95" text-anchor="start" font-weight="normal" fill="#222" stroke="#222" stroke-width="0.1" transform="translate(120.25,457.20) rotate(90) scale(1,1.2)">WT.DAY15.1</text>
<text x="0.00" y="0.00" dy="2.14" font-size="5.95" text-anchor="start" font-weight="normal" fill="#222" stroke="#222" stroke-width="0.1" transform="translate(140.75,457.20) rotate(90) scale(1,1.2)">WT.DAY15.2</text>
<text x="0.00" y="0.00" dy="2.14" font-size="5.95" text-anchor="start" font-weight="normal" fill="#222" stroke="#222" stroke-width="0.1" transform="translate(161.25,457.20) rotate(90) scale(1,1.2)">WT.DAY15.3</text>
<text x="0.00" y="0.00" dy="2.14" font-size="5.95" text-anchor="start" font-weight="normal" fill="#222" stroke="#222" stroke-width="0.1" transform="translate(181.75,457.20) rotate(90) scale(1,1.2)">WT.DAY15.4</text>
<text x="0.00" y="0.00" dy="2.02" font-size="5.6" text-anchor="start" font-weight="bold" fill="#111" transform="translate(194.80,314.40) scale(1,1.15)">Class</text>
<rect x="194.80" y="320.00" width="5.00" height="4.80" fill="#1CC5CF"/>
<text x="0.00" y="0.00" dy="2.23" font-size="6.2" text-anchor="start" font-weight="normal" fill="#222" stroke="#222" stroke-width="0.1" transform="translate(203.60,322.40) scale(1,1.2)">KO_day15</text>
<rect x="194.80" y="328.40" width="5.00" height="4.80" fill="#F5766E"/>
<text x="0.00" y="0.00" dy="2.23" font-size="6.2" text-anchor="start" font-weight="normal" fill="#222" stroke="#222" stroke-width="0.1" transform="translate(203.60,330.80) scale(1,1.2)">WT_day15</text>
<defs><linearGradient id="cb222_338" x1="0" y1="0" x2="0" y2="1"><stop offset="0.0000" stop-color="#B0102A"/><stop offset="0.1000" stop-color="#D73027"/><stop offset="0.2000" stop-color="#F46D43"/><stop offset="0.3000" stop-color="#FDAE61"/><stop offset="0.4000" stop-color="#FEE090"/><stop offset="0.5000" stop-color="#FFFFBF"/><stop offset="0.6000" stop-color="#E0F3F8"/><stop offset="0.7000" stop-color="#ABD9E9"/><stop offset="0.8000" stop-color="#74ADD1"/><stop offset="0.9000" stop-color="#4575B4"/><stop offset="1.0000" stop-color="#34509E"/></linearGradient></defs>
<rect x="222.00" y="338.00" width="4.20" height="60.80" fill="url(#cb222_338)"/>
<text x="0.00" y="0.00" dy="2.30" font-size="6.4" text-anchor="start" font-weight="normal" fill="#222" stroke="#222" stroke-width="0.1" transform="translate(229.20,353.30) scale(1,1.2)">1</text>
<text x="0.00" y="0.00" dy="2.30" font-size="6.4" text-anchor="start" font-weight="normal" fill="#222" stroke="#222" stroke-width="0.1" transform="translate(229.20,368.50) scale(1,1.2)">0</text>
<text x="0.00" y="0.00" dy="2.30" font-size="6.4" text-anchor="start" font-weight="normal" fill="#222" stroke="#222" stroke-width="0.1" transform="translate(229.20,384.50) scale(1,1.2)">−1</text>
<path d="M79.25,338.80L79.25,336.00M99.75,338.80L99.75,336.00M79.25,336.00L99.75,336.00M58.75,338.80L58.75,333.50M89.50,336.00L89.50,333.50M58.75,333.50L89.50,333.50M38.25,338.80L38.25,331.50M74.12,333.50L74.12,331.50M38.25,331.50L74.12,331.50M161.25,338.80L161.25,334.50M181.75,338.80L181.75,334.50M161.25,334.50L181.75,334.50M140.75,338.80L140.75,332.20M171.50,334.50L171.50,332.20M140.75,332.20L171.50,332.20M120.25,338.80L120.25,325.40M156.12,332.20L156.12,325.40M120.25,325.40L156.12,325.40M56.19,331.50L56.19,316.30M138.19,325.40L138.19,316.30M56.19,316.30L138.19,316.30" stroke="#222" stroke-width="0.9" fill="none"/>
<path d="M28.00,357.28L22.70,357.28M28.00,384.62L22.70,384.62M22.70,357.28L22.70,384.62M28.00,411.98L20.50,411.98M28.00,439.33L20.50,439.33M20.50,411.98L20.50,439.33M22.70,370.95L6.70,370.95M20.50,425.65L6.70,425.65M6.70,370.95L6.70,425.65" stroke="#222" stroke-width="0.9" fill="none"/>
<text x="280.00" y="312.40" dy="4.14" font-size="11.5" text-anchor="start" font-weight="bold" fill="#000">F</text>
<rect x="301.30" y="339.30" width="89.00" height="3.80" fill="#1CC5CF"/>
<rect x="390.30" y="339.30" width="66.75" height="3.80" fill="#F5766E"/>
<rect x="301.30" y="344.20" width="23.25" height="11.62" fill="#FA9A58"/>
<rect x="323.55" y="344.20" width="23.25" height="11.62" fill="#FDD884"/>
<rect x="345.80" y="344.20" width="23.25" height="11.62" fill="#FBC574"/>
<rect x="368.05" y="344.20" width="23.25" height="11.62" fill="#FCCD7A"/>
<rect x="390.30" y="344.20" width="23.25" height="11.62" fill="#3A64AA"/>
<rect x="412.55" y="344.20" width="23.25" height="11.62" fill="#DCEFF5"/>
<rect x="434.80" y="344.20" width="22.25" height="11.62" fill="#DCEFF5"/>
<rect x="301.30" y="354.82" width="23.25" height="11.62" fill="#F99858"/>
<rect x="323.55" y="354.82" width="23.25" height="11.62" fill="#FDDF8A"/>
<rect x="345.80" y="354.82" width="23.25" height="11.62" fill="#F99A5A"/>
<rect x="368.05" y="354.82" width="23.25" height="11.62" fill="#FBBB6E"/>
<rect x="390.30" y="354.82" width="23.25" height="11.62" fill="#BDD9E9"/>
<rect x="412.55" y="354.82" width="23.25" height="11.62" fill="#6898C8"/>
<rect x="434.80" y="354.82" width="22.25" height="11.62" fill="#9AC2DC"/>
<rect x="301.30" y="365.44" width="23.25" height="11.62" fill="#FBC273"/>
<rect x="323.55" y="365.44" width="23.25" height="11.62" fill="#F98A4E"/>
<rect x="345.80" y="365.44" width="23.25" height="11.62" fill="#FAA35F"/>
<rect x="368.05" y="365.44" width="23.25" height="11.62" fill="#FDDA88"/>
<rect x="390.30" y="365.44" width="23.25" height="11.62" fill="#92BDD9"/>
<rect x="412.55" y="365.44" width="23.25" height="11.62" fill="#6A9ACA"/>
<rect x="434.80" y="365.44" width="22.25" height="11.62" fill="#C3DFEB"/>
<rect x="301.30" y="376.06" width="23.25" height="11.62" fill="#FBC575"/>
<rect x="323.55" y="376.06" width="23.25" height="11.62" fill="#FA9E5B"/>
<rect x="345.80" y="376.06" width="23.25" height="11.62" fill="#FDD582"/>
<rect x="368.05" y="376.06" width="23.25" height="11.62" fill="#F9A05C"/>
<rect x="390.30" y="376.06" width="23.25" height="11.62" fill="#8EBAD8"/>
<rect x="412.55" y="376.06" width="23.25" height="11.62" fill="#6594C6"/>
<rect x="434.80" y="376.06" width="22.25" height="11.62" fill="#D4EBF3"/>
<rect x="301.30" y="386.68" width="23.25" height="11.62" fill="#F9FBC5"/>
<rect x="323.55" y="386.68" width="23.25" height="11.62" fill="#DCEFF3"/>
<rect x="345.80" y="386.68" width="23.25" height="11.62" fill="#93BCDA"/>
<rect x="368.05" y="386.68" width="23.25" height="11.62" fill="#8FBBD9"/>
<rect x="390.30" y="386.68" width="23.25" height="11.62" fill="#FCF9B2"/>
<rect x="412.55" y="386.68" width="23.25" height="11.62" fill="#E04230"/>
<rect x="434.80" y="386.68" width="22.25" height="11.62" fill="#FB8D4F"/>
<rect x="301.30" y="397.30" width="23.25" height="11.62" fill="#6897C7"/>
<rect x="323.55" y="397.30" width="23.25" height="11.62" fill="#CCE5F0"/>
<rect x="345.80" y="397.30" width="23.25" height="11.62" fill="#DCEFF5"/>
<rect x="368.05" y="397.30" width="23.25" height="11.62" fill="#E8F5DC"/>
<rect x="390.30" y="397.30" width="23.25" height="11.62" fill="#FBA466"/>
<rect x="412.55" y="397.30" width="23.25" height="11.62" fill="#EE6440"/>
<rect x="434.80" y="397.30" width="22.25" height="11.62" fill="#FBBC72"/>
<rect x="301.30" y="407.92" width="23.25" height="11.62" fill="#A4C9E0"/>
<rect x="323.55" y="407.92" width="23.25" height="11.62" fill="#DCEFF5"/>
<rect x="345.80" y="407.92" width="23.25" height="11.62" fill="#C1DDEA"/>
<rect x="368.05" y="407.92" width="23.25" height="11.62" fill="#BFDCEA"/>
<rect x="390.30" y="407.92" width="23.25" height="11.62" fill="#FBAE68"/>
<rect x="412.55" y="407.92" width="23.25" height="11.62" fill="#E3493A"/>
<rect x="434.80" y="407.92" width="22.25" height="11.62" fill="#FBBC72"/>
<rect x="301.30" y="418.54" width="23.25" height="11.62" fill="#A4C9E0"/>
<rect x="323.55" y="418.54" width="23.25" height="11.62" fill="#DCEFF5"/>
<rect x="345.80" y="418.54" width="23.25" height="11.62" fill="#DEF0F3"/>
<rect x="368.05" y="418.54" width="23.25" height="11.62" fill="#A7CBE1"/>
<rect x="390.30" y="418.54" width="23.25" height="11.62" fill="#FDD382"/>
<rect x="412.55" y="418.54" width="23.25" height="11.62" fill="#D7322A"/>
<rect x="434.80" y="418.54" width="22.25" height="11.62" fill="#FBBC72"/>
<rect x="301.30" y="429.16" width="23.25" height="11.62" fill="#8DB8D7"/>
<rect x="323.55" y="429.16" width="23.25" height="11.62" fill="#FCFBB0"/>
<rect x="345.80" y="429.16" width="23.25" height="11.62" fill="#6C9BCA"/>
<rect x="368.05" y="429.16" width="23.25" height="11.62" fill="#DAEEF4"/>
<rect x="390.30" y="429.16" width="23.25" height="11.62" fill="#FA8A4E"/>
<rect x="412.55" y="429.16" width="23.25" height="11.62" fill="#FDD07E"/>
<rect x="434.80" y="429.16" width="22.25" height="11.62" fill="#FA8A4E"/>
<rect x="301.30" y="439.78" width="23.25" height="10.62" fill="#A9CCE2"/>
<rect x="323.55" y="439.78" width="23.25" height="10.62" fill="#A0C6DE"/>
<rect x="345.80" y="439.78" width="23.25" height="10.62" fill="#D6ECF3"/>
<rect x="368.05" y="439.78" width="23.25" height="10.62" fill="#D6ECF3"/>
<rect x="390.30" y="439.78" width="23.25" height="10.62" fill="#E0462F"/>
<rect x="412.55" y="439.78" width="23.25" height="10.62" fill="#FDD07E"/>
<rect x="434.80" y="439.78" width="22.25" height="10.62" fill="#F9A05C"/>
<text x="0.00" y="0.00" dy="2.02" font-size="5.6" text-anchor="start" font-weight="bold" fill="#111" transform="translate(460.50,341.40) scale(1,1.15)">Class</text>
<text x="0.00" y="0.00" dy="2.20" font-size="6.1" text-anchor="start" font-weight="normal" fill="#222" stroke="#222" stroke-width="0.1" transform="translate(460.50,349.51) scale(1,1.2)">BHLHE40</text>
<text x="0.00" y="0.00" dy="2.20" font-size="6.1" text-anchor="start" font-weight="normal" fill="#222" stroke="#222" stroke-width="0.1" transform="translate(460.50,360.13) scale(1,1.2)">Tnfsf10</text>
<text x="0.00" y="0.00" dy="2.20" font-size="6.1" text-anchor="start" font-weight="normal" fill="#222" stroke="#222" stroke-width="0.1" transform="translate(460.50,370.75) scale(1,1.2)">Casp1</text>
<text x="0.00" y="0.00" dy="2.20" font-size="6.1" text-anchor="start" font-weight="normal" fill="#222" stroke="#222" stroke-width="0.1" transform="translate(460.50,381.37) scale(1,1.2)">Ccl3</text>
<text x="0.00" y="0.00" dy="2.20" font-size="6.1" text-anchor="start" font-weight="normal" fill="#222" stroke="#222" stroke-width="0.1" transform="translate(460.50,391.99) scale(1,1.2)">Serpinb9</text>
<text x="0.00" y="0.00" dy="2.20" font-size="6.1" text-anchor="start" font-weight="normal" fill="#222" stroke="#222" stroke-width="0.1" transform="translate(460.50,402.61) scale(1,1.2)">Sell</text>
<text x="0.00" y="0.00" dy="2.20" font-size="6.1" text-anchor="start" font-weight="normal" fill="#222" stroke="#222" stroke-width="0.1" transform="translate(460.50,413.23) scale(1,1.2)">Itgb7</text>
<text x="0.00" y="0.00" dy="2.20" font-size="6.1" text-anchor="start" font-weight="normal" fill="#222" stroke="#222" stroke-width="0.1" transform="translate(460.50,423.85) scale(1,1.2)">S1pr1</text>
<text x="0.00" y="0.00" dy="2.20" font-size="6.1" text-anchor="start" font-weight="normal" fill="#222" stroke="#222" stroke-width="0.1" transform="translate(460.50,434.47) scale(1,1.2)">Gzma</text>
<text x="0.00" y="0.00" dy="2.20" font-size="6.1" text-anchor="start" font-weight="normal" fill="#222" stroke="#222" stroke-width="0.1" transform="translate(460.50,445.09) scale(1,1.2)">Amica1</text>
<text x="0.00" y="0.00" dy="2.09" font-size="5.8" text-anchor="start" font-weight="normal" fill="#222" stroke="#222" stroke-width="0.1" transform="translate(312.43,456.60) rotate(90) scale(1,1.2)">VIP-KO.DAY15.4</text>
<text x="0.00" y="0.00" dy="2.09" font-size="5.8" text-anchor="start" font-weight="normal" fill="#222" stroke="#222" stroke-width="0.1" transform="translate(334.68,456.60) rotate(90) scale(1,1.2)">VIP-KO.DAY15.3</text>
<text x="0.00" y="0.00" dy="2.09" font-size="5.8" text-anchor="start" font-weight="normal" fill="#222" stroke="#222" stroke-width="0.1" transform="translate(356.93,456.60) rotate(90) scale(1,1.2)">VIP-KO.DAY15.1</text>
<text x="0.00" y="0.00" dy="2.09" font-size="5.8" text-anchor="start" font-weight="normal" fill="#222" stroke="#222" stroke-width="0.1" transform="translate(379.18,456.60) rotate(90) scale(1,1.2)">VIP-KO.DAY15.2</text>
<text x="0.00" y="0.00" dy="2.09" font-size="5.8" text-anchor="start" font-weight="normal" fill="#222" stroke="#222" stroke-width="0.1" transform="translate(401.43,456.60) rotate(90) scale(1,1.2)">VIP-KO.DAY8.1</text>
<text x="0.00" y="0.00" dy="2.09" font-size="5.8" text-anchor="start" font-weight="normal" fill="#222" stroke="#222" stroke-width="0.1" transform="translate(423.68,456.60) rotate(90) scale(1,1.2)">VIP-KO.DAY8.3</text>
<text x="0.00" y="0.00" dy="2.09" font-size="5.8" text-anchor="start" font-weight="normal" fill="#222" stroke="#222" stroke-width="0.1" transform="translate(445.93,456.60) rotate(90) scale(1,1.2)">VIP-KO.DAY8.4</text>
<text x="0.00" y="0.00" dy="2.02" font-size="5.6" text-anchor="start" font-weight="bold" fill="#111" transform="translate(460.50,314.60) scale(1,1.15)">Class</text>
<rect x="460.50" y="320.20" width="5.00" height="4.80" fill="#1CC5CF"/>
<text x="0.00" y="0.00" dy="2.23" font-size="6.2" text-anchor="start" font-weight="normal" fill="#222" stroke="#222" stroke-width="0.1" transform="translate(469.30,322.60) scale(1,1.2)">KO_day15</text>
<rect x="460.50" y="328.60" width="5.00" height="4.80" fill="#F5766E"/>
<text x="0.00" y="0.00" dy="2.23" font-size="6.2" text-anchor="start" font-weight="normal" fill="#222" stroke="#222" stroke-width="0.1" transform="translate(469.30,331.00) scale(1,1.2)">KO_day8</text>
<defs><linearGradient id="cb493_359" x1="0" y1="0" x2="0" y2="1"><stop offset="0.0000" stop-color="#B0102A"/><stop offset="0.1000" stop-color="#D73027"/><stop offset="0.2000" stop-color="#F46D43"/><stop offset="0.3000" stop-color="#FDAE61"/><stop offset="0.4000" stop-color="#FEE090"/><stop offset="0.5000" stop-color="#FFFFBF"/><stop offset="0.6000" stop-color="#E0F3F8"/><stop offset="0.7000" stop-color="#ABD9E9"/><stop offset="0.8000" stop-color="#74ADD1"/><stop offset="0.9000" stop-color="#4575B4"/><stop offset="1.0000" stop-color="#34509E"/></linearGradient></defs>
<rect x="493.10" y="359.90" width="4.20" height="60.60" fill="url(#cb493_359)"/>
<text x="0.00" y="0.00" dy="2.30" font-size="6.4" text-anchor="start" font-weight="normal" fill="#222" stroke="#222" stroke-width="0.1" transform="translate(500.10,365.30) scale(1,1.2)">1.5</text>
<text x="0.00" y="0.00" dy="2.30" font-size="6.4" text-anchor="start" font-weight="normal" fill="#222" stroke="#222" stroke-width="0.1" transform="translate(500.10,373.70) scale(1,1.2)">1</text>
<text x="0.00" y="0.00" dy="2.30" font-size="6.4" text-anchor="start" font-weight="normal" fill="#222" stroke="#222" stroke-width="0.1" transform="translate(500.10,382.00) scale(1,1.2)">0.5</text>
<text x="0.00" y="0.00" dy="2.30" font-size="6.4" text-anchor="start" font-weight="normal" fill="#222" stroke="#222" stroke-width="0.1" transform="translate(500.10,390.20) scale(1,1.2)">0</text>
<text x="0.00" y="0.00" dy="2.30" font-size="6.4" text-anchor="start" font-weight="normal" fill="#222" stroke="#222" stroke-width="0.1" transform="translate(500.10,399.00) scale(1,1.2)">−0.5</text>
<text x="0.00" y="0.00" dy="2.30" font-size="6.4" text-anchor="start" font-weight="normal" fill="#222" stroke="#222" stroke-width="0.1" transform="translate(500.10,407.30) scale(1,1.2)">−1</text>
<text x="0.00" y="0.00" dy="2.30" font-size="6.4" text-anchor="start" font-weight="normal" fill="#222" stroke="#222" stroke-width="0.1" transform="translate(500.10,417.50) scale(1,1.2)">−1.5</text>
<path d="M356.93,339.30L356.93,336.30M379.18,339.30L379.18,336.30M356.93,336.30L379.18,336.30M334.68,339.30L334.68,333.60M368.05,336.30L368.05,333.60M334.68,333.60L368.05,333.60M312.43,339.30L312.43,332.50M351.36,333.60L351.36,332.50M312.43,332.50L351.36,332.50M423.68,339.30L423.68,333.30M445.93,339.30L445.93,333.30M423.68,333.30L445.93,333.30M401.43,339.30L401.43,330.50M434.80,333.30L434.80,330.50M401.43,330.50L434.80,330.50M331.89,332.50L331.89,317.50M418.11,330.50L418.11,317.50M331.89,317.50L418.11,317.50" stroke="#222" stroke-width="0.9" fill="none"/>
<path d="M301.30,370.75L298.40,370.75M301.30,381.37L298.40,381.37M298.40,370.75L298.40,381.37M301.30,360.13L297.10,360.13M298.40,376.06L297.10,376.06M297.10,360.13L297.10,376.06M301.30,349.51L294.00,349.51M297.10,368.10L294.00,368.10M294.00,349.51L294.00,368.10M301.30,413.23L299.20,413.23M301.30,423.85L299.20,423.85M299.20,413.23L299.20,423.85M301.30,402.61L296.50,402.61M299.20,418.54L296.50,418.54M296.50,402.61L296.50,418.54M301.30,434.47L296.00,434.47M301.30,445.09L296.00,445.09M296.00,434.47L296.00,445.09M296.50,410.57L294.00,410.57M296.00,439.78L294.00,439.78M294.00,410.57L294.00,439.78M301.30,391.99L291.60,391.99M294.00,425.18L291.60,425.18M291.60,391.99L291.60,425.18M294.00,358.80L278.20,358.80M291.60,408.58L278.20,408.58M278.20,358.80L278.20,408.58" stroke="#222" stroke-width="0.9" fill="none"/>
<text x="7.50" y="513.60" dy="4.14" font-size="11.5" text-anchor="start" font-weight="bold" fill="#000">G</text>
<rect x="28.00" y="540.50" width="78.76" height="3.70" fill="#F5766E"/>
<rect x="106.76" y="540.50" width="78.76" height="3.70" fill="#1CC5CF"/>
<rect x="28.00" y="545.30" width="20.69" height="11.38" fill="#FDDF8E"/>
<rect x="47.69" y="545.30" width="20.69" height="11.38" fill="#FBA05C"/>
<rect x="67.38" y="545.30" width="20.69" height="11.38" fill="#F06A40"/>
<rect x="87.07" y="545.30" width="20.69" height="11.38" fill="#EE6440"/>
<rect x="106.76" y="545.30" width="20.69" height="11.38" fill="#92BDD9"/>
<rect x="126.45" y="545.30" width="20.69" height="11.38" fill="#8EBAD8"/>
<rect x="146.14" y="545.30" width="20.69" height="11.38" fill="#A3C8E0"/>
<rect x="165.83" y="545.30" width="19.69" height="11.38" fill="#D1E8F1"/>
<rect x="28.00" y="555.68" width="20.69" height="11.38" fill="#FDDB86"/>
<rect x="47.69" y="555.68" width="20.69" height="11.38" fill="#FA8A4E"/>
<rect x="67.38" y="555.68" width="20.69" height="11.38" fill="#F99A58"/>
<rect x="87.07" y="555.68" width="20.69" height="11.38" fill="#E0472F"/>
<rect x="106.76" y="555.68" width="20.69" height="11.38" fill="#92BDD9"/>
<rect x="126.45" y="555.68" width="20.69" height="11.38" fill="#92BDD9"/>
<rect x="146.14" y="555.68" width="20.69" height="11.38" fill="#B1D3E6"/>
<rect x="165.83" y="555.68" width="19.69" height="11.38" fill="#C6E1EE"/>
<rect x="28.00" y="566.06" width="20.69" height="11.38" fill="#F7844F"/>
<rect x="47.69" y="566.06" width="20.69" height="11.38" fill="#F7844F"/>
<rect x="67.38" y="566.06" width="20.69" height="11.38" fill="#FDDA88"/>
<rect x="87.07" y="566.06" width="20.69" height="11.38" fill="#F77F4D"/>
<rect x="106.76" y="566.06" width="20.69" height="11.38" fill="#87B4D6"/>
<rect x="126.45" y="566.06" width="20.69" height="11.38" fill="#87B4D6"/>
<rect x="146.14" y="566.06" width="20.69" height="11.38" fill="#E3F2E6"/>
<rect x="165.83" y="566.06" width="19.69" height="11.38" fill="#97C1DC"/>
<rect x="28.00" y="576.44" width="20.69" height="11.38" fill="#FCC879"/>
<rect x="47.69" y="576.44" width="20.69" height="11.38" fill="#FAA560"/>
<rect x="67.38" y="576.44" width="20.69" height="11.38" fill="#F98A4E"/>
<rect x="87.07" y="576.44" width="20.69" height="11.38" fill="#F37A46"/>
<rect x="106.76" y="576.44" width="20.69" height="11.38" fill="#3E6DB0"/>
<rect x="126.45" y="576.44" width="20.69" height="11.38" fill="#DCEFF5"/>
<rect x="146.14" y="576.44" width="20.69" height="11.38" fill="#E4F2E0"/>
<rect x="165.83" y="576.44" width="19.69" height="11.38" fill="#93BDDA"/>
<rect x="28.00" y="586.82" width="20.69" height="11.38" fill="#98C2DC"/>
<rect x="47.69" y="586.82" width="20.69" height="11.38" fill="#7DAED3"/>
<rect x="67.38" y="586.82" width="20.69" height="11.38" fill="#92BDD9"/>
<rect x="87.07" y="586.82" width="20.69" height="11.38" fill="#BFDCEA"/>
<rect x="106.76" y="586.82" width="20.69" height="11.38" fill="#F7844F"/>
<rect x="126.45" y="586.82" width="20.69" height="11.38" fill="#F99A58"/>
<rect x="146.14" y="586.82" width="20.69" height="11.38" fill="#FDDF8A"/>
<rect x="165.83" y="586.82" width="19.69" height="11.38" fill="#E0502F"/>
<rect x="28.00" y="597.20" width="20.69" height="11.38" fill="#A9CCE2"/>
<rect x="47.69" y="597.20" width="20.69" height="11.38" fill="#6898C8"/>
<rect x="67.38" y="597.20" width="20.69" height="11.38" fill="#92BDD9"/>
<rect x="87.07" y="597.20" width="20.69" height="11.38" fill="#BFDCEA"/>
<rect x="106.76" y="597.20" width="20.69" height="11.38" fill="#FA9A58"/>
<rect x="126.45" y="597.20" width="20.69" height="11.38" fill="#EC5E3C"/>
<rect x="146.14" y="597.20" width="20.69" height="11.38" fill="#FBAE68"/>
<rect x="165.83" y="597.20" width="19.69" height="11.38" fill="#FBAE68"/>
<rect x="28.00" y="607.58" width="20.69" height="11.38" fill="#A4C9E0"/>
<rect x="47.69" y="607.58" width="20.69" height="11.38" fill="#8EBAD8"/>
<rect x="67.38" y="607.58" width="20.69" height="11.38" fill="#8EBAD8"/>
<rect x="87.07" y="607.58" width="20.69" height="11.38" fill="#BFDCEA"/>
<rect x="106.76" y="607.58" width="20.69" height="11.38" fill="#E8553A"/>
<rect x="126.45" y="607.58" width="20.69" height="11.38" fill="#FBAE68"/>
<rect x="146.14" y="607.58" width="20.69" height="11.38" fill="#FA9A58"/>
<rect x="165.83" y="607.58" width="19.69" height="11.38" fill="#FBAE68"/>
<rect x="28.00" y="617.96" width="20.69" height="11.38" fill="#A4C9E0"/>
<rect x="47.69" y="617.96" width="20.69" height="11.38" fill="#A4C9E0"/>
<rect x="67.38" y="617.96" width="20.69" height="11.38" fill="#D6ECF3"/>
<rect x="87.07" y="617.96" width="20.69" height="11.38" fill="#6C9BCA"/>
<rect x="106.76" y="617.96" width="20.69" height="11.38" fill="#FCC070"/>
<rect x="126.45" y="617.96" width="20.69" height="11.38" fill="#E03A30"/>
<rect x="146.14" y="617.96" width="20.69" height="11.38" fill="#FBAE68"/>
<rect x="165.83" y="617.96" width="19.69" height="11.38" fill="#FBAE68"/>
<rect x="28.00" y="628.34" width="20.69" height="11.38" fill="#A4C9E0"/>
<rect x="47.69" y="628.34" width="20.69" height="11.38" fill="#D6ECF3"/>
<rect x="67.38" y="628.34" width="20.69" height="11.38" fill="#D6ECF3"/>
<rect x="87.07" y="628.34" width="20.69" height="11.38" fill="#4A79B6"/>
<rect x="106.76" y="628.34" width="20.69" height="11.38" fill="#FDD584"/>
<rect x="126.45" y="628.34" width="20.69" height="11.38" fill="#E24030"/>
<rect x="146.14" y="628.34" width="20.69" height="11.38" fill="#F99058"/>
<rect x="165.83" y="628.34" width="19.69" height="11.38" fill="#FBAE68"/>
<rect x="28.00" y="638.72" width="20.69" height="11.38" fill="#A4C9E0"/>
<rect x="47.69" y="638.72" width="20.69" height="11.38" fill="#A4C9E0"/>
<rect x="67.38" y="638.72" width="20.69" height="11.38" fill="#C6E1EE"/>
<rect x="87.07" y="638.72" width="20.69" height="11.38" fill="#92BDD9"/>
<rect x="106.76" y="638.72" width="20.69" height="11.38" fill="#E0472F"/>
<rect x="126.45" y="638.72" width="20.69" height="11.38" fill="#F06A40"/>
<rect x="146.14" y="638.72" width="20.69" height="11.38" fill="#FCC879"/>
<rect x="165.83" y="638.72" width="19.69" height="11.38" fill="#FDD584"/>
<rect x="28.00" y="649.10" width="20.69" height="10.38" fill="#8EBAD8"/>
<rect x="47.69" y="649.10" width="20.69" height="10.38" fill="#8EBAD8"/>
<rect x="67.38" y="649.10" width="20.69" height="10.38" fill="#EAF4D6"/>
<rect x="87.07" y="649.10" width="20.69" height="10.38" fill="#A4C9E0"/>
<rect x="106.76" y="649.10" width="20.69" height="10.38" fill="#FBA05C"/>
<rect x="126.45" y="649.10" width="20.69" height="10.38" fill="#CC1E20"/>
<rect x="146.14" y="649.10" width="20.69" height="10.38" fill="#FDDF8A"/>
<rect x="165.83" y="649.10" width="19.69" height="10.38" fill="#FBC575"/>
<text x="0.00" y="0.00" dy="2.02" font-size="5.6" text-anchor="start" font-weight="bold" fill="#111" transform="translate(188.80,543.05) scale(1,1.15)">Class</text>
<text x="0.00" y="0.00" dy="2.32" font-size="6.45" text-anchor="start" font-weight="normal" fill="#222" stroke="#222" stroke-width="0.1" transform="translate(188.80,550.49) scale(1,1.2)">Itgb7</text>
<text x="0.00" y="0.00" dy="2.32" font-size="6.45" text-anchor="start" font-weight="normal" fill="#222" stroke="#222" stroke-width="0.1" transform="translate(188.80,560.87) scale(1,1.2)">Serpinb9</text>
<text x="0.00" y="0.00" dy="2.32" font-size="6.45" text-anchor="start" font-weight="normal" fill="#222" stroke="#222" stroke-width="0.1" transform="translate(188.80,571.25) scale(1,1.2)">Gzma</text>
<text x="0.00" y="0.00" dy="2.32" font-size="6.45" text-anchor="start" font-weight="normal" fill="#222" stroke="#222" stroke-width="0.1" transform="translate(188.80,581.63) scale(1,1.2)">S1pr1</text>
<text x="0.00" y="0.00" dy="2.32" font-size="6.45" text-anchor="start" font-weight="normal" fill="#222" stroke="#222" stroke-width="0.1" transform="translate(188.80,592.01) scale(1,1.2)">Tnfsf10</text>
<text x="0.00" y="0.00" dy="2.32" font-size="6.45" text-anchor="start" font-weight="normal" fill="#222" stroke="#222" stroke-width="0.1" transform="translate(188.80,602.39) scale(1,1.2)">Tnfrsf1a</text>
<text x="0.00" y="0.00" dy="2.32" font-size="6.45" text-anchor="start" font-weight="normal" fill="#222" stroke="#222" stroke-width="0.1" transform="translate(188.80,612.77) scale(1,1.2)">Casp1</text>
<text x="0.00" y="0.00" dy="2.32" font-size="6.45" text-anchor="start" font-weight="normal" fill="#222" stroke="#222" stroke-width="0.1" transform="translate(188.80,623.15) scale(1,1.2)">Ccl3</text>
<text x="0.00" y="0.00" dy="2.32" font-size="6.45" text-anchor="start" font-weight="normal" fill="#222" stroke="#222" stroke-width="0.1" transform="translate(188.80,633.53) scale(1,1.2)">Nr4a2</text>
<text x="0.00" y="0.00" dy="2.32" font-size="6.45" text-anchor="start" font-weight="normal" fill="#222" stroke="#222" stroke-width="0.1" transform="translate(188.80,643.91) scale(1,1.2)">Vwa5a</text>
<text x="0.00" y="0.00" dy="2.32" font-size="6.45" text-anchor="start" font-weight="normal" fill="#222" stroke="#222" stroke-width="0.1" transform="translate(188.80,654.29) scale(1,1.2)">Ccl4</text>
<text x="0.00" y="0.00" dy="2.16" font-size="6.0" text-anchor="start" font-weight="normal" fill="#222" stroke="#222" stroke-width="0.1" transform="translate(37.84,662.20) rotate(90) scale(1,1.2)">WT.DAY8.3</text>
<text x="0.00" y="0.00" dy="2.16" font-size="6.0" text-anchor="start" font-weight="normal" fill="#222" stroke="#222" stroke-width="0.1" transform="translate(57.54,662.20) rotate(90) scale(1,1.2)">WT.DAY8.4</text>
<text x="0.00" y="0.00" dy="2.16" font-size="6.0" text-anchor="start" font-weight="normal" fill="#222" stroke="#222" stroke-width="0.1" transform="translate(77.22,662.20) rotate(90) scale(1,1.2)">WT.DAY8.1</text>
<text x="0.00" y="0.00" dy="2.16" font-size="6.0" text-anchor="start" font-weight="normal" fill="#222" stroke="#222" stroke-width="0.1" transform="translate(96.92,662.20) rotate(90) scale(1,1.2)">WT.DAY8.2.3</text>
<text x="0.00" y="0.00" dy="2.16" font-size="6.0" text-anchor="start" font-weight="normal" fill="#222" stroke="#222" stroke-width="0.1" transform="translate(116.61,662.20) rotate(90) scale(1,1.2)">WT.DAY15.3</text>
<text x="0.00" y="0.00" dy="2.16" font-size="6.0" text-anchor="start" font-weight="normal" fill="#222" stroke="#222" stroke-width="0.1" transform="translate(136.30,662.20) rotate(90) scale(1,1.2)">WT.DAY15.1</text>
<text x="0.00" y="0.00" dy="2.16" font-size="6.0" text-anchor="start" font-weight="normal" fill="#222" stroke="#222" stroke-width="0.1" transform="translate(155.99,662.20) rotate(90) scale(1,1.2)">WT.DAY15.4</text>
<text x="0.00" y="0.00" dy="2.16" font-size="6.0" text-anchor="start" font-weight="normal" fill="#222" stroke="#222" stroke-width="0.1" transform="translate(175.68,662.20) rotate(90) scale(1,1.2)">WT.DAY15.2.3</text>
<text x="0.00" y="0.00" dy="2.02" font-size="5.6" text-anchor="start" font-weight="bold" fill="#111" transform="translate(189.30,515.80) scale(1,1.15)">Class</text>
<rect x="189.30" y="521.40" width="5.00" height="4.80" fill="#1CC5CF"/>
<text x="0.00" y="0.00" dy="2.23" font-size="6.2" text-anchor="start" font-weight="normal" fill="#222" stroke="#222" stroke-width="0.1" transform="translate(198.10,523.80) scale(1,1.2)">WT_day15</text>
<rect x="189.30" y="529.80" width="5.00" height="4.80" fill="#F5766E"/>
<text x="0.00" y="0.00" dy="2.23" font-size="6.2" text-anchor="start" font-weight="normal" fill="#222" stroke="#222" stroke-width="0.1" transform="translate(198.10,532.20) scale(1,1.2)">WT_day8</text>
<defs><linearGradient id="cb221_539" x1="0" y1="0" x2="0" y2="1"><stop offset="0.0000" stop-color="#B0102A"/><stop offset="0.1000" stop-color="#D73027"/><stop offset="0.2000" stop-color="#F46D43"/><stop offset="0.3000" stop-color="#FDAE61"/><stop offset="0.4000" stop-color="#FEE090"/><stop offset="0.5000" stop-color="#FFFFBF"/><stop offset="0.6000" stop-color="#E0F3F8"/><stop offset="0.7000" stop-color="#ABD9E9"/><stop offset="0.8000" stop-color="#74ADD1"/><stop offset="0.9000" stop-color="#4575B4"/><stop offset="1.0000" stop-color="#34509E"/></linearGradient></defs>
<rect x="221.30" y="539.50" width="4.00" height="61.10" fill="url(#cb221_539)"/>
<text x="0.00" y="0.00" dy="2.30" font-size="6.4" text-anchor="start" font-weight="normal" fill="#222" stroke="#222" stroke-width="0.1" transform="translate(228.50,542.40) scale(1,1.2)">1.5</text>
<text x="0.00" y="0.00" dy="2.30" font-size="6.4" text-anchor="start" font-weight="normal" fill="#222" stroke="#222" stroke-width="0.1" transform="translate(228.50,551.80) scale(1,1.2)">1</text>
<text x="0.00" y="0.00" dy="2.30" font-size="6.4" text-anchor="start" font-weight="normal" fill="#222" stroke="#222" stroke-width="0.1" transform="translate(228.50,561.40) scale(1,1.2)">0.5</text>
<text x="0.00" y="0.00" dy="2.30" font-size="6.4" text-anchor="start" font-weight="normal" fill="#222" stroke="#222" stroke-width="0.1" transform="translate(228.50,570.30) scale(1,1.2)">0</text>
<text x="0.00" y="0.00" dy="2.30" font-size="6.4" text-anchor="start" font-weight="normal" fill="#222" stroke="#222" stroke-width="0.1" transform="translate(228.50,580.00) scale(1,1.2)">−0.5</text>
<text x="0.00" y="0.00" dy="2.30" font-size="6.4" text-anchor="start" font-weight="normal" fill="#222" stroke="#222" stroke-width="0.1" transform="translate(228.50,588.80) scale(1,1.2)">−1</text>
<text x="0.00" y="0.00" dy="2.30" font-size="6.4" text-anchor="start" font-weight="normal" fill="#222" stroke="#222" stroke-width="0.1" transform="translate(228.50,598.00) scale(1,1.2)">−1.5</text>
<path d="M37.84,540.50L37.84,535.80M57.54,540.50L57.54,535.80M37.84,535.80L57.54,535.80M77.22,540.50L77.22,534.50M96.92,540.50L96.92,534.50M77.22,534.50L96.92,534.50M47.69,535.80L47.69,533.60M87.07,534.50L87.07,533.60M47.69,533.60L87.07,533.60M155.99,540.50L155.99,535.80M175.68,540.50L175.68,535.80M155.99,535.80L175.68,535.80M136.30,540.50L136.30,533.80M165.83,535.80L165.83,533.80M136.30,533.80L165.83,533.80M116.61,540.50L116.61,533.00M151.06,533.80L151.06,533.00M116.61,533.00L151.06,533.00M67.38,533.60L67.38,517.50M133.83,533.00L133.83,517.50M67.38,517.50L133.83,517.50" stroke="#222" stroke-width="0.9" fill="none"/>
<path d="M28.00,550.49L26.70,550.49M28.00,560.87L26.70,560.87M26.70,550.49L26.70,560.87M28.00,571.25L24.00,571.25M28.00,581.63L24.00,581.63M24.00,571.25L24.00,581.63M26.70,555.68L23.20,555.68M24.00,576.44L23.20,576.44M23.20,555.68L23.20,576.44M28.00,602.39L25.80,602.39M28.00,612.77L25.80,612.77M25.80,602.39L25.80,612.77M28.00,592.01L24.90,592.01M25.80,607.58L24.90,607.58M24.90,592.01L24.90,607.58M28.00,623.15L25.30,623.15M28.00,633.53L25.30,633.53M25.30,623.15L25.30,633.53M28.00,643.91L24.80,643.91M28.00,654.29L24.80,654.29M24.80,643.91L24.80,654.29M25.30,628.34L23.00,628.34M24.80,649.10L23.00,649.10M23.00,628.34L23.00,649.10M24.90,599.79L22.00,599.79M23.00,638.72L22.00,638.72M22.00,599.79L22.00,638.72M23.20,566.06L6.50,566.06M22.00,619.26L6.50,619.26M6.50,566.06L6.50,619.26" stroke="#222" stroke-width="0.9" fill="none"/>
<text x="280.00" y="512.00" dy="4.14" font-size="11.5" text-anchor="start" font-weight="bold" fill="#000">H</text>
<rect x="301.30" y="540.40" width="76.50" height="3.80" fill="#1CC5CF"/>
<rect x="377.80" y="540.40" width="76.50" height="3.80" fill="#F5766E"/>
<rect x="301.30" y="545.00" width="26.50" height="13.24" fill="#FBA560"/>
<rect x="326.80" y="545.00" width="26.50" height="13.24" fill="#EC5E3C"/>
<rect x="352.30" y="545.00" width="26.50" height="13.24" fill="#FBC070"/>
<rect x="377.80" y="545.00" width="26.50" height="13.24" fill="#F2F7C8"/>
<rect x="403.30" y="545.00" width="26.50" height="13.24" fill="#3660A8"/>
<rect x="428.80" y="545.00" width="25.50" height="13.24" fill="#9DC4DD"/>
<rect x="301.30" y="557.24" width="26.50" height="13.24" fill="#F88F52"/>
<rect x="326.80" y="557.24" width="26.50" height="13.24" fill="#F88F52"/>
<rect x="352.30" y="557.24" width="26.50" height="13.24" fill="#FA9A58"/>
<rect x="377.80" y="557.24" width="26.50" height="13.24" fill="#4071B2"/>
<rect x="403.30" y="557.24" width="26.50" height="13.24" fill="#DDF0F0"/>
<rect x="428.80" y="557.24" width="25.50" height="13.24" fill="#A4C9E0"/>
<rect x="301.30" y="569.48" width="26.50" height="13.24" fill="#FAA560"/>
<rect x="326.80" y="569.48" width="26.50" height="13.24" fill="#E04530"/>
<rect x="352.30" y="569.48" width="26.50" height="13.24" fill="#FA9A58"/>
<rect x="377.80" y="569.48" width="26.50" height="13.24" fill="#8DB9D8"/>
<rect x="403.30" y="569.48" width="26.50" height="13.24" fill="#6A9ACA"/>
<rect x="428.80" y="569.48" width="25.50" height="13.24" fill="#BCDAE9"/>
<rect x="301.30" y="581.72" width="26.50" height="13.24" fill="#E04832"/>
<rect x="326.80" y="581.72" width="26.50" height="13.24" fill="#EE6440"/>
<rect x="352.30" y="581.72" width="26.50" height="13.24" fill="#FDE08C"/>
<rect x="377.80" y="581.72" width="26.50" height="13.24" fill="#98C2DC"/>
<rect x="403.30" y="581.72" width="26.50" height="13.24" fill="#98C2DC"/>
<rect x="428.80" y="581.72" width="25.50" height="13.24" fill="#7EAFD4"/>
<rect x="301.30" y="593.96" width="26.50" height="13.24" fill="#EE6440"/>
<rect x="326.80" y="593.96" width="26.50" height="13.24" fill="#F77F4D"/>
<rect x="352.30" y="593.96" width="26.50" height="13.24" fill="#FBAA64"/>
<rect x="377.80" y="593.96" width="26.50" height="13.24" fill="#B5D6E7"/>
<rect x="403.30" y="593.96" width="26.50" height="13.24" fill="#6A9ACA"/>
<rect x="428.80" y="593.96" width="25.50" height="13.24" fill="#80B0D4"/>
<rect x="301.30" y="606.20" width="26.50" height="13.24" fill="#4071B2"/>
<rect x="326.80" y="606.20" width="26.50" height="13.24" fill="#A4C9E0"/>
<rect x="352.30" y="606.20" width="26.50" height="13.24" fill="#EAF4D8"/>
<rect x="377.80" y="606.20" width="26.50" height="13.24" fill="#EB5B3B"/>
<rect x="403.30" y="606.20" width="26.50" height="13.24" fill="#E5523A"/>
<rect x="428.80" y="606.20" width="25.50" height="13.24" fill="#FCF5A8"/>
<rect x="301.30" y="618.44" width="26.50" height="13.24" fill="#F1F7C8"/>
<rect x="326.80" y="618.44" width="26.50" height="13.24" fill="#2E5AA6"/>
<rect x="352.30" y="618.44" width="26.50" height="13.24" fill="#98C2DC"/>
<rect x="377.80" y="618.44" width="26.50" height="13.24" fill="#F99A58"/>
<rect x="403.30" y="618.44" width="26.50" height="13.24" fill="#FBAE68"/>
<rect x="428.80" y="618.44" width="25.50" height="13.24" fill="#F77F4D"/>
<rect x="301.30" y="630.68" width="26.50" height="13.24" fill="#8DB9D8"/>
<rect x="326.80" y="630.68" width="26.50" height="13.24" fill="#A4C9E0"/>
<rect x="352.30" y="630.68" width="26.50" height="13.24" fill="#80B0D4"/>
<rect x="377.80" y="630.68" width="26.50" height="13.24" fill="#EB5B3B"/>
<rect x="403.30" y="630.68" width="26.50" height="13.24" fill="#F99058"/>
<rect x="428.80" y="630.68" width="25.50" height="13.24" fill="#F99A58"/>
<rect x="301.30" y="642.92" width="26.50" height="12.24" fill="#8DB9D8"/>
<rect x="326.80" y="642.92" width="26.50" height="12.24" fill="#6C9BCA"/>
<rect x="352.30" y="642.92" width="26.50" height="12.24" fill="#BCDAE9"/>
<rect x="377.80" y="642.92" width="26.50" height="12.24" fill="#FDCC7A"/>
<rect x="403.30" y="642.92" width="26.50" height="12.24" fill="#FBAE68"/>
<rect x="428.80" y="642.92" width="25.50" height="12.24" fill="#D7302A"/>
<text x="0.00" y="0.00" dy="2.02" font-size="5.6" text-anchor="start" font-weight="bold" fill="#111" transform="translate(457.20,543.70) scale(1,1.15)">Class</text>
<text x="0.00" y="0.00" dy="2.32" font-size="6.45" text-anchor="start" font-weight="normal" fill="#222" stroke="#222" stroke-width="0.1" transform="translate(457.20,551.62) scale(1,1.2)">Nr4a2</text>
<text x="0.00" y="0.00" dy="2.32" font-size="6.45" text-anchor="start" font-weight="normal" fill="#222" stroke="#222" stroke-width="0.1" transform="translate(457.20,563.86) scale(1,1.2)">Vwa5a</text>
<text x="0.00" y="0.00" dy="2.32" font-size="6.45" text-anchor="start" font-weight="normal" fill="#222" stroke="#222" stroke-width="0.1" transform="translate(457.20,576.10) scale(1,1.2)">Ccl3</text>
<text x="0.00" y="0.00" dy="2.32" font-size="6.45" text-anchor="start" font-weight="normal" fill="#222" stroke="#222" stroke-width="0.1" transform="translate(457.20,588.34) scale(1,1.2)">Casp1</text>
<text x="0.00" y="0.00" dy="2.32" font-size="6.45" text-anchor="start" font-weight="normal" fill="#222" stroke="#222" stroke-width="0.1" transform="translate(457.20,600.58) scale(1,1.2)">BHLHE40</text>
<text x="0.00" y="0.00" dy="2.32" font-size="6.45" text-anchor="start" font-weight="normal" fill="#222" stroke="#222" stroke-width="0.1" transform="translate(457.20,612.82) scale(1,1.2)">S1pr1</text>
<text x="0.00" y="0.00" dy="2.32" font-size="6.45" text-anchor="start" font-weight="normal" fill="#222" stroke="#222" stroke-width="0.1" transform="translate(457.20,625.06) scale(1,1.2)">Gzma</text>
<text x="0.00" y="0.00" dy="2.32" font-size="6.45" text-anchor="start" font-weight="normal" fill="#222" stroke="#222" stroke-width="0.1" transform="translate(457.20,637.30) scale(1,1.2)">Itgb7</text>
<text x="0.00" y="0.00" dy="2.32" font-size="6.45" text-anchor="start" font-weight="normal" fill="#222" stroke="#222" stroke-width="0.1" transform="translate(457.20,649.54) scale(1,1.2)">Serpinb9</text>
<text x="0.00" y="0.00" dy="2.23" font-size="6.2" text-anchor="start" font-weight="normal" fill="#222" stroke="#222" stroke-width="0.1" transform="translate(314.05,658.80) rotate(90) scale(1,1.2)">HSC+T.DAY15.2</text>
<text x="0.00" y="0.00" dy="2.23" font-size="6.2" text-anchor="start" font-weight="normal" fill="#222" stroke="#222" stroke-width="0.1" transform="translate(339.55,658.80) rotate(90) scale(1,1.2)">HSC+T.DAY15.3</text>
<text x="0.00" y="0.00" dy="2.23" font-size="6.2" text-anchor="start" font-weight="normal" fill="#222" stroke="#222" stroke-width="0.1" transform="translate(365.05,658.80) rotate(90) scale(1,1.2)">HSC+T.DAY15.4</text>
<text x="0.00" y="0.00" dy="2.23" font-size="6.2" text-anchor="start" font-weight="normal" fill="#222" stroke="#222" stroke-width="0.1" transform="translate(390.55,658.80) rotate(90) scale(1,1.2)">HSC+T.DAY8.3</text>
<text x="0.00" y="0.00" dy="2.23" font-size="6.2" text-anchor="start" font-weight="normal" fill="#222" stroke="#222" stroke-width="0.1" transform="translate(416.05,658.80) rotate(90) scale(1,1.2)">HSC+T.DAY8.1</text>
<text x="0.00" y="0.00" dy="2.23" font-size="6.2" text-anchor="start" font-weight="normal" fill="#222" stroke="#222" stroke-width="0.1" transform="translate(441.55,658.80) rotate(90) scale(1,1.2)">HSC+T.DAY8.4</text>
<text x="0.00" y="0.00" dy="2.02" font-size="5.6" text-anchor="start" font-weight="bold" fill="#111" transform="translate(457.00,515.70) scale(1,1.15)">Class</text>
<rect x="457.00" y="521.30" width="5.00" height="4.80" fill="#1CC5CF"/>
<text x="0.00" y="0.00" dy="2.23" font-size="6.2" text-anchor="start" font-weight="normal" fill="#222" stroke="#222" stroke-width="0.1" transform="translate(465.80,523.70) scale(1,1.2)">HSC_day15</text>
<rect x="457.00" y="529.70" width="5.00" height="4.80" fill="#F5766E"/>
<text x="0.00" y="0.00" dy="2.23" font-size="6.2" text-anchor="start" font-weight="normal" fill="#222" stroke="#222" stroke-width="0.1" transform="translate(465.80,532.10) scale(1,1.2)">HSC_day8</text>
<defs><linearGradient id="cb493_539" x1="0" y1="0" x2="0" y2="1"><stop offset="0.0000" stop-color="#B0102A"/><stop offset="0.1000" stop-color="#D73027"/><stop offset="0.2000" stop-color="#F46D43"/><stop offset="0.3000" stop-color="#FDAE61"/><stop offset="0.4000" stop-color="#FEE090"/><stop offset="0.5000" stop-color="#FFFFBF"/><stop offset="0.6000" stop-color="#E0F3F8"/><stop offset="0.7000" stop-color="#ABD9E9"/><stop offset="0.8000" stop-color="#74ADD1"/><stop offset="0.9000" stop-color="#4575B4"/><stop offset="1.0000" stop-color="#34509E"/></linearGradient></defs>
<rect x="493.30" y="539.60" width="4.20" height="60.80" fill="url(#cb493_539)"/>
<text x="0.00" y="0.00" dy="2.30" font-size="6.4" text-anchor="start" font-weight="normal" fill="#222" stroke="#222" stroke-width="0.1" transform="translate(500.60,549.60) scale(1,1.2)">1</text>
<text x="0.00" y="0.00" dy="2.30" font-size="6.4" text-anchor="start" font-weight="normal" fill="#222" stroke="#222" stroke-width="0.1" transform="translate(500.60,559.70) scale(1,1.2)">0.5</text>
<text x="0.00" y="0.00" dy="2.30" font-size="6.4" text-anchor="start" font-weight="normal" fill="#222" stroke="#222" stroke-width="0.1" transform="translate(500.60,569.70) scale(1,1.2)">0</text>
<text x="0.00" y="0.00" dy="2.30" font-size="6.4" text-anchor="start" font-weight="normal" fill="#222" stroke="#222" stroke-width="0.1" transform="translate(500.60,579.70) scale(1,1.2)">−0.5</text>
<text x="0.00" y="0.00" dy="2.30" font-size="6.4" text-anchor="start" font-weight="normal" fill="#222" stroke="#222" stroke-width="0.1" transform="translate(500.60,590.70) scale(1,1.2)">−1</text>
<path d="M339.55,540.40L339.55,534.30M365.05,540.40L365.05,534.30M339.55,534.30L365.05,534.30M314.05,540.40L314.05,533.30M352.30,534.30L352.30,533.30M314.05,533.30L352.30,533.30M416.05,540.40L416.05,534.30M441.55,540.40L441.55,534.30M416.05,534.30L441.55,534.30M390.55,540.40L390.55,533.30M428.80,534.30L428.80,533.30M390.55,533.30L428.80,533.30M333.18,533.30L333.18,518.00M409.68,533.30L409.68,518.00M333.18,518.00L409.68,518.00" stroke="#222" stroke-width="0.9" fill="none"/>
<path d="M301.30,587.84L298.60,587.84M301.30,600.08L298.60,600.08M298.60,587.84L298.60,600.08M301.30,575.60L297.00,575.60M298.60,593.96L297.00,593.96M297.00,575.60L297.00,593.96M301.30,563.36L296.10,563.36M297.00,584.78L296.10,584.78M296.10,563.36L296.10,584.78M301.30,551.12L292.40,551.12M296.10,574.07L292.40,574.07M292.40,551.12L292.40,574.07M301.30,636.80L296.60,636.80M301.30,649.04L296.60,649.04M296.60,636.80L296.60,649.04M301.30,624.56L296.00,624.56M296.60,642.92L296.00,642.92M296.00,624.56L296.00,642.92M301.30,612.32L291.90,612.32M296.00,633.74L291.90,633.74M291.90,612.32L291.90,633.74M292.40,562.60L278.70,562.60M291.90,623.03L278.70,623.03M278.70,562.60L278.70,623.03" stroke="#222" stroke-width="0.9" fill="none"/>
<rect x="0.6" y="0.6" width="518.8" height="710.8" fill="none" stroke="#000" stroke-width="1.3"/>
</svg></body></html>
